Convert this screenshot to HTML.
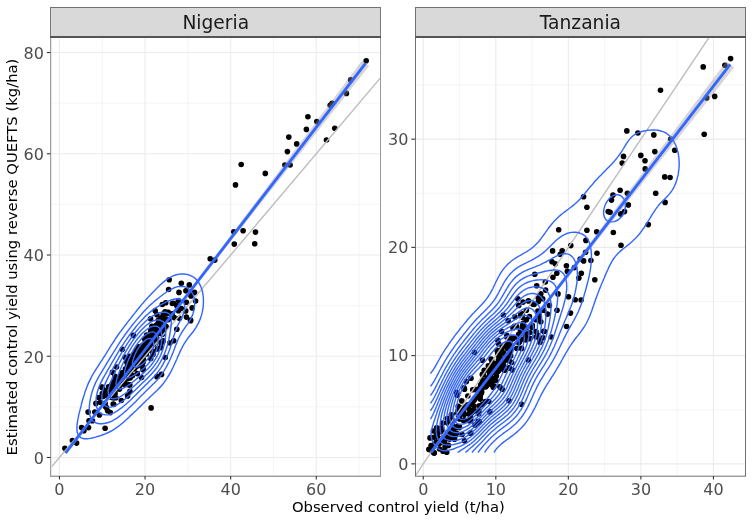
<!DOCTYPE html><html><head><meta charset="utf-8"><style>html,body{margin:0;padding:0;background:#fff;overflow:hidden}svg{display:block;will-change:transform}</style></head><body><svg width="753" height="522" viewBox="0 0 753 522" font-family="DejaVu Sans, Liberation Sans, sans-serif"><rect width="753" height="522" fill="#fff"/><clipPath id="cl"><rect x="50.95" y="36.9" width="329.65000000000003" height="439.0"/></clipPath>
<clipPath id="cr"><rect x="415.55" y="36.9" width="329.7" height="439.0"/></clipPath>
<line x1="50.95" x2="380.60" y1="406.86" y2="406.86" stroke="#EBEBEB" stroke-width="0.55"/>
<line x1="50.95" x2="380.60" y1="305.62" y2="305.62" stroke="#EBEBEB" stroke-width="0.55"/>
<line x1="50.95" x2="380.60" y1="204.40" y2="204.40" stroke="#EBEBEB" stroke-width="0.55"/>
<line x1="50.95" x2="380.60" y1="103.17" y2="103.17" stroke="#EBEBEB" stroke-width="0.55"/>
<line x1="102.24" x2="102.24" y1="36.90" y2="475.90" stroke="#EBEBEB" stroke-width="0.55"/>
<line x1="187.85" x2="187.85" y1="36.90" y2="475.90" stroke="#EBEBEB" stroke-width="0.55"/>
<line x1="273.45" x2="273.45" y1="36.90" y2="475.90" stroke="#EBEBEB" stroke-width="0.55"/>
<line x1="359.05" x2="359.05" y1="36.90" y2="475.90" stroke="#EBEBEB" stroke-width="0.55"/>
<line x1="50.95" x2="380.60" y1="457.47" y2="457.47" stroke="#EBEBEB" stroke-width="1.07"/>
<line x1="50.95" x2="380.60" y1="356.24" y2="356.24" stroke="#EBEBEB" stroke-width="1.07"/>
<line x1="50.95" x2="380.60" y1="255.01" y2="255.01" stroke="#EBEBEB" stroke-width="1.07"/>
<line x1="50.95" x2="380.60" y1="153.78" y2="153.78" stroke="#EBEBEB" stroke-width="1.07"/>
<line x1="50.95" x2="380.60" y1="52.55" y2="52.55" stroke="#EBEBEB" stroke-width="1.07"/>
<line x1="59.44" x2="59.44" y1="36.90" y2="475.90" stroke="#EBEBEB" stroke-width="1.07"/>
<line x1="145.04" x2="145.04" y1="36.90" y2="475.90" stroke="#EBEBEB" stroke-width="1.07"/>
<line x1="230.65" x2="230.65" y1="36.90" y2="475.90" stroke="#EBEBEB" stroke-width="1.07"/>
<line x1="316.25" x2="316.25" y1="36.90" y2="475.90" stroke="#EBEBEB" stroke-width="1.07"/>
<line x1="415.55" x2="745.25" y1="409.74" y2="409.74" stroke="#EBEBEB" stroke-width="0.55"/>
<line x1="415.55" x2="745.25" y1="301.50" y2="301.50" stroke="#EBEBEB" stroke-width="0.55"/>
<line x1="415.55" x2="745.25" y1="193.26" y2="193.26" stroke="#EBEBEB" stroke-width="0.55"/>
<line x1="415.55" x2="745.25" y1="85.02" y2="85.02" stroke="#EBEBEB" stroke-width="0.55"/>
<line x1="459.54" x2="459.54" y1="36.90" y2="475.90" stroke="#EBEBEB" stroke-width="0.55"/>
<line x1="532.08" x2="532.08" y1="36.90" y2="475.90" stroke="#EBEBEB" stroke-width="0.55"/>
<line x1="604.62" x2="604.62" y1="36.90" y2="475.90" stroke="#EBEBEB" stroke-width="0.55"/>
<line x1="677.16" x2="677.16" y1="36.90" y2="475.90" stroke="#EBEBEB" stroke-width="0.55"/>
<line x1="415.55" x2="745.25" y1="463.86" y2="463.86" stroke="#EBEBEB" stroke-width="1.07"/>
<line x1="415.55" x2="745.25" y1="355.62" y2="355.62" stroke="#EBEBEB" stroke-width="1.07"/>
<line x1="415.55" x2="745.25" y1="247.38" y2="247.38" stroke="#EBEBEB" stroke-width="1.07"/>
<line x1="415.55" x2="745.25" y1="139.14" y2="139.14" stroke="#EBEBEB" stroke-width="1.07"/>
<line x1="423.27" x2="423.27" y1="36.90" y2="475.90" stroke="#EBEBEB" stroke-width="1.07"/>
<line x1="495.81" x2="495.81" y1="36.90" y2="475.90" stroke="#EBEBEB" stroke-width="1.07"/>
<line x1="568.35" x2="568.35" y1="36.90" y2="475.90" stroke="#EBEBEB" stroke-width="1.07"/>
<line x1="640.89" x2="640.89" y1="36.90" y2="475.90" stroke="#EBEBEB" stroke-width="1.07"/>
<line x1="713.43" x2="713.43" y1="36.90" y2="475.90" stroke="#EBEBEB" stroke-width="1.07"/>
<g clip-path="url(#cl)">
<g fill="#000"><circle cx="366.2" cy="60.7" r="2.8"/><circle cx="350.6" cy="79.9" r="2.8"/><circle cx="346.4" cy="93.4" r="2.8"/><circle cx="330.2" cy="105.2" r="2.8"/><circle cx="332.1" cy="103.4" r="2.8"/><circle cx="307.9" cy="116.7" r="2.8"/><circle cx="316.8" cy="121.6" r="2.8"/><circle cx="306.4" cy="129.4" r="2.8"/><circle cx="334.8" cy="128.2" r="2.8"/><circle cx="288.8" cy="137.1" r="2.8"/><circle cx="296.7" cy="143.9" r="2.8"/><circle cx="326.5" cy="140.0" r="2.8"/><circle cx="287.4" cy="151.6" r="2.8"/><circle cx="284.9" cy="165.0" r="2.8"/><circle cx="290.1" cy="165.0" r="2.8"/><circle cx="241.2" cy="164.5" r="2.8"/><circle cx="265.3" cy="173.4" r="2.8"/><circle cx="235.5" cy="184.9" r="2.8"/><circle cx="233.8" cy="231.7" r="2.8"/><circle cx="243.1" cy="230.7" r="2.8"/><circle cx="255.5" cy="232.1" r="2.8"/><circle cx="234.3" cy="244.1" r="2.8"/><circle cx="254.7" cy="243.8" r="2.8"/><circle cx="210.2" cy="258.8" r="2.8"/><circle cx="214.8" cy="260.1" r="2.8"/><circle cx="169.2" cy="279.8" r="2.8"/><circle cx="181.3" cy="283.2" r="2.8"/><circle cx="189.3" cy="284.9" r="2.8"/><circle cx="168.6" cy="289.5" r="2.8"/><circle cx="179.0" cy="292.4" r="2.8"/><circle cx="185.9" cy="290.7" r="2.8"/><circle cx="192.2" cy="293.6" r="2.8"/><circle cx="194.5" cy="292.4" r="2.8"/><circle cx="191.0" cy="295.9" r="2.8"/><circle cx="178.4" cy="300.5" r="2.8"/><circle cx="186.4" cy="302.2" r="2.8"/><circle cx="195.6" cy="301.0" r="2.8"/><circle cx="176.7" cy="305.6" r="2.8"/><circle cx="192.2" cy="307.9" r="2.8"/><circle cx="181.3" cy="308.5" r="2.8"/><circle cx="165.7" cy="302.8" r="2.8"/><circle cx="162.3" cy="304.5" r="2.8"/><circle cx="163.4" cy="313.7" r="2.8"/><circle cx="166.9" cy="312.5" r="2.8"/><circle cx="178.4" cy="310.8" r="2.8"/><circle cx="186.4" cy="317.1" r="2.8"/><circle cx="190.5" cy="320.0" r="2.8"/><circle cx="179.5" cy="318.3" r="2.8"/><circle cx="185.7" cy="310.9" r="2.8"/><circle cx="172.3" cy="313.8" r="2.8"/><circle cx="156.9" cy="314.7" r="2.8"/><circle cx="160.8" cy="318.1" r="2.8"/><circle cx="165.5" cy="319.5" r="2.8"/><circle cx="174.2" cy="317.6" r="2.8"/><circle cx="190.6" cy="320.8" r="2.8"/><circle cx="173.7" cy="340.7" r="2.8"/><circle cx="169.9" cy="343.0" r="2.8"/><circle cx="160.7" cy="347.6" r="2.8"/><circle cx="165.3" cy="357.5" r="2.8"/><circle cx="156.9" cy="376.7" r="2.8"/><circle cx="161.5" cy="374.4" r="2.8"/><circle cx="153.0" cy="354.5" r="2.8"/><circle cx="143.1" cy="369.8" r="2.8"/><circle cx="141.5" cy="377.5" r="2.8"/><circle cx="176.8" cy="329.2" r="2.8"/><circle cx="151.1" cy="407.9" r="2.8"/><circle cx="157.5" cy="376.3" r="2.8"/><circle cx="122.3" cy="349.2" r="2.8"/><circle cx="125.1" cy="357.2" r="2.8"/><circle cx="116.5" cy="367.0" r="2.8"/><circle cx="112.5" cy="372.2" r="2.8"/><circle cx="112.5" cy="383.1" r="2.8"/><circle cx="102.1" cy="387.1" r="2.8"/><circle cx="104.4" cy="390.6" r="2.8"/><circle cx="98.7" cy="397.5" r="2.8"/><circle cx="122.8" cy="381.4" r="2.8"/><circle cx="128.6" cy="384.8" r="2.8"/><circle cx="121.3" cy="400.5" r="2.8"/><circle cx="127.6" cy="395.9" r="2.8"/><circle cx="129.9" cy="391.3" r="2.8"/><circle cx="113.8" cy="404.5" r="2.8"/><circle cx="105.7" cy="406.8" r="2.8"/><circle cx="101.7" cy="387.2" r="2.8"/><circle cx="111.5" cy="393.0" r="2.8"/><circle cx="113.8" cy="383.2" r="2.8"/><circle cx="64.9" cy="448.3" r="2.8"/><circle cx="72.4" cy="440.5" r="2.8"/><circle cx="76.6" cy="443.1" r="2.8"/><circle cx="81.6" cy="427.6" r="2.8"/><circle cx="83.9" cy="430.8" r="2.8"/><circle cx="88.5" cy="427.6" r="2.8"/><circle cx="89.0" cy="420.7" r="2.8"/><circle cx="92.5" cy="420.7" r="2.8"/><circle cx="88.1" cy="412.1" r="2.8"/><circle cx="94.8" cy="412.1" r="2.8"/><circle cx="99.4" cy="414.9" r="2.8"/><circle cx="105.1" cy="428.2" r="2.8"/><circle cx="110.3" cy="412.6" r="2.8"/><circle cx="106.3" cy="407.5" r="2.8"/><circle cx="113.2" cy="404.0" r="2.8"/><circle cx="95.9" cy="403.4" r="2.8"/><circle cx="100.5" cy="402.3" r="2.8"/><circle cx="133.3" cy="335.4" r="2.8"/><circle cx="155.2" cy="310.7" r="2.8"/><circle cx="150.6" cy="318.7" r="2.8"/><circle cx="126.2" cy="378.4" r="2.8"/><circle cx="105.1" cy="403.3" r="2.8"/><circle cx="116.6" cy="388.4" r="2.8"/><circle cx="114.0" cy="392.8" r="2.8"/><circle cx="115.1" cy="393.6" r="2.8"/><circle cx="124.3" cy="379.5" r="2.8"/><circle cx="110.8" cy="396.1" r="2.8"/><circle cx="123.1" cy="379.7" r="2.8"/><circle cx="102.3" cy="393.5" r="2.8"/><circle cx="111.2" cy="397.5" r="2.8"/><circle cx="129.0" cy="366.5" r="2.8"/><circle cx="116.4" cy="389.0" r="2.8"/><circle cx="103.2" cy="396.5" r="2.8"/><circle cx="113.5" cy="398.0" r="2.8"/><circle cx="122.0" cy="372.9" r="2.8"/><circle cx="108.4" cy="396.6" r="2.8"/><circle cx="123.9" cy="384.5" r="2.8"/><circle cx="127.1" cy="370.9" r="2.8"/><circle cx="122.7" cy="382.1" r="2.8"/><circle cx="115.1" cy="388.4" r="2.8"/><circle cx="128.6" cy="360.4" r="2.8"/><circle cx="127.7" cy="370.7" r="2.8"/><circle cx="116.6" cy="388.2" r="2.8"/><circle cx="123.2" cy="373.7" r="2.8"/><circle cx="128.3" cy="373.0" r="2.8"/><circle cx="119.1" cy="381.7" r="2.8"/><circle cx="120.6" cy="376.2" r="2.8"/><circle cx="107.6" cy="410.8" r="2.8"/><circle cx="124.8" cy="383.3" r="2.8"/><circle cx="129.8" cy="384.9" r="2.8"/><circle cx="135.3" cy="357.4" r="2.8"/><circle cx="157.4" cy="348.9" r="2.8"/><circle cx="139.7" cy="354.3" r="2.8"/><circle cx="138.5" cy="346.9" r="2.8"/><circle cx="132.3" cy="363.7" r="2.8"/><circle cx="133.8" cy="354.3" r="2.8"/><circle cx="144.8" cy="352.6" r="2.8"/><circle cx="126.7" cy="361.7" r="2.8"/><circle cx="153.1" cy="333.8" r="2.8"/><circle cx="157.2" cy="331.3" r="2.8"/><circle cx="138.2" cy="364.2" r="2.8"/><circle cx="136.5" cy="351.1" r="2.8"/><circle cx="129.4" cy="374.2" r="2.8"/><circle cx="141.6" cy="352.5" r="2.8"/><circle cx="151.2" cy="350.5" r="2.8"/><circle cx="126.5" cy="373.8" r="2.8"/><circle cx="158.0" cy="327.4" r="2.8"/><circle cx="147.4" cy="348.9" r="2.8"/><circle cx="148.2" cy="347.3" r="2.8"/><circle cx="153.8" cy="343.9" r="2.8"/><circle cx="146.5" cy="348.6" r="2.8"/><circle cx="150.9" cy="340.5" r="2.8"/><circle cx="172.3" cy="303.5" r="2.8"/><circle cx="161.1" cy="343.3" r="2.8"/><circle cx="141.4" cy="358.7" r="2.8"/><circle cx="150.7" cy="358.4" r="2.8"/><circle cx="157.6" cy="325.8" r="2.8"/><circle cx="131.1" cy="374.7" r="2.8"/><circle cx="136.5" cy="360.5" r="2.8"/><circle cx="151.9" cy="326.2" r="2.8"/><circle cx="142.9" cy="347.0" r="2.8"/><circle cx="146.7" cy="335.0" r="2.8"/><circle cx="153.0" cy="329.6" r="2.8"/><circle cx="133.5" cy="366.0" r="2.8"/><circle cx="136.3" cy="350.3" r="2.8"/><circle cx="152.1" cy="342.7" r="2.8"/><circle cx="140.2" cy="352.5" r="2.8"/><circle cx="137.5" cy="366.0" r="2.8"/><circle cx="142.4" cy="357.0" r="2.8"/><circle cx="132.5" cy="375.4" r="2.8"/><circle cx="150.7" cy="336.3" r="2.8"/><circle cx="145.1" cy="347.2" r="2.8"/><circle cx="146.3" cy="347.1" r="2.8"/><circle cx="128.7" cy="374.1" r="2.8"/><circle cx="146.2" cy="353.7" r="2.8"/><circle cx="139.9" cy="362.1" r="2.8"/><circle cx="141.5" cy="348.3" r="2.8"/><circle cx="140.7" cy="356.4" r="2.8"/><circle cx="153.8" cy="333.8" r="2.8"/><circle cx="163.2" cy="340.9" r="2.8"/><circle cx="154.2" cy="341.2" r="2.8"/><circle cx="146.5" cy="341.8" r="2.8"/><circle cx="156.6" cy="327.2" r="2.8"/><circle cx="146.7" cy="336.1" r="2.8"/><circle cx="142.0" cy="354.6" r="2.8"/><circle cx="153.6" cy="342.4" r="2.8"/><circle cx="168.2" cy="312.4" r="2.8"/><circle cx="168.3" cy="319.6" r="2.8"/><circle cx="140.9" cy="353.8" r="2.8"/><circle cx="152.9" cy="343.6" r="2.8"/><circle cx="149.1" cy="344.5" r="2.8"/><circle cx="162.3" cy="331.9" r="2.8"/><circle cx="156.2" cy="339.7" r="2.8"/><circle cx="134.8" cy="368.1" r="2.8"/><circle cx="132.3" cy="365.2" r="2.8"/><circle cx="156.1" cy="334.1" r="2.8"/><circle cx="151.7" cy="329.4" r="2.8"/><circle cx="147.9" cy="344.5" r="2.8"/><circle cx="142.1" cy="364.9" r="2.8"/><circle cx="153.2" cy="351.5" r="2.8"/><circle cx="152.0" cy="340.7" r="2.8"/><circle cx="157.1" cy="334.5" r="2.8"/><circle cx="136.2" cy="358.6" r="2.8"/><circle cx="139.0" cy="358.7" r="2.8"/><circle cx="145.5" cy="350.0" r="2.8"/><circle cx="143.0" cy="358.2" r="2.8"/><circle cx="143.0" cy="367.4" r="2.8"/><circle cx="143.4" cy="360.3" r="2.8"/><circle cx="157.0" cy="325.1" r="2.8"/><circle cx="124.2" cy="375.8" r="2.8"/><circle cx="153.3" cy="328.0" r="2.8"/><circle cx="129.4" cy="358.0" r="2.8"/><circle cx="148.8" cy="346.7" r="2.8"/><circle cx="140.4" cy="359.2" r="2.8"/><circle cx="146.8" cy="340.2" r="2.8"/><circle cx="155.8" cy="329.6" r="2.8"/><circle cx="130.5" cy="374.8" r="2.8"/><circle cx="166.6" cy="313.7" r="2.8"/><circle cx="173.6" cy="303.2" r="2.8"/><circle cx="137.9" cy="349.2" r="2.8"/><circle cx="156.3" cy="331.3" r="2.8"/><circle cx="140.2" cy="353.4" r="2.8"/><circle cx="147.7" cy="338.7" r="2.8"/><circle cx="150.7" cy="330.9" r="2.8"/><circle cx="140.7" cy="350.2" r="2.8"/><circle cx="154.9" cy="339.2" r="2.8"/><circle cx="136.2" cy="353.0" r="2.8"/><circle cx="155.1" cy="335.0" r="2.8"/><circle cx="153.7" cy="339.6" r="2.8"/><circle cx="152.0" cy="341.5" r="2.8"/><circle cx="151.4" cy="333.3" r="2.8"/><circle cx="145.5" cy="341.7" r="2.8"/><circle cx="137.8" cy="358.1" r="2.8"/><circle cx="134.1" cy="361.9" r="2.8"/><circle cx="150.2" cy="341.5" r="2.8"/><circle cx="146.3" cy="338.0" r="2.8"/><circle cx="165.2" cy="327.7" r="2.8"/><circle cx="162.4" cy="334.2" r="2.8"/><circle cx="141.2" cy="353.2" r="2.8"/><circle cx="150.6" cy="345.8" r="2.8"/><circle cx="141.3" cy="351.6" r="2.8"/><circle cx="141.6" cy="355.2" r="2.8"/><circle cx="156.7" cy="326.7" r="2.8"/><circle cx="148.7" cy="342.3" r="2.8"/><circle cx="149.1" cy="344.4" r="2.8"/><circle cx="143.6" cy="354.7" r="2.8"/><circle cx="156.5" cy="332.6" r="2.8"/><circle cx="147.8" cy="342.4" r="2.8"/><circle cx="155.2" cy="326.0" r="2.8"/><circle cx="146.3" cy="347.8" r="2.8"/><circle cx="151.6" cy="343.4" r="2.8"/><circle cx="163.5" cy="318.0" r="2.8"/><circle cx="157.0" cy="332.2" r="2.8"/><circle cx="157.6" cy="325.0" r="2.8"/><circle cx="154.9" cy="335.9" r="2.8"/><circle cx="130.6" cy="360.7" r="2.8"/><circle cx="145.4" cy="351.4" r="2.8"/><circle cx="159.2" cy="326.8" r="2.8"/><circle cx="133.5" cy="362.7" r="2.8"/><circle cx="146.3" cy="339.9" r="2.8"/><circle cx="128.2" cy="371.1" r="2.8"/><circle cx="147.8" cy="335.7" r="2.8"/><circle cx="137.3" cy="373.6" r="2.8"/><circle cx="133.9" cy="360.1" r="2.8"/><circle cx="158.3" cy="320.2" r="2.8"/><circle cx="153.8" cy="340.2" r="2.8"/><circle cx="159.2" cy="328.8" r="2.8"/><circle cx="147.1" cy="344.4" r="2.8"/><circle cx="163.5" cy="328.1" r="2.8"/><circle cx="137.9" cy="356.8" r="2.8"/><circle cx="148.6" cy="347.1" r="2.8"/><circle cx="139.5" cy="352.2" r="2.8"/><circle cx="164.2" cy="318.2" r="2.8"/><circle cx="156.9" cy="324.7" r="2.8"/><circle cx="127.2" cy="378.8" r="2.8"/><circle cx="141.5" cy="358.4" r="2.8"/><circle cx="138.3" cy="355.5" r="2.8"/><circle cx="135.0" cy="362.6" r="2.8"/><circle cx="126.6" cy="376.6" r="2.8"/><circle cx="164.3" cy="325.1" r="2.8"/><circle cx="152.9" cy="332.9" r="2.8"/><circle cx="143.9" cy="345.4" r="2.8"/><circle cx="151.7" cy="334.6" r="2.8"/><circle cx="142.3" cy="358.8" r="2.8"/><circle cx="137.9" cy="359.4" r="2.8"/><circle cx="155.3" cy="334.9" r="2.8"/><circle cx="144.9" cy="348.3" r="2.8"/><circle cx="161.6" cy="328.8" r="2.8"/><circle cx="166.1" cy="326.5" r="2.8"/><circle cx="142.7" cy="345.4" r="2.8"/><circle cx="155.1" cy="338.8" r="2.8"/><circle cx="148.1" cy="347.1" r="2.8"/><circle cx="158.8" cy="326.2" r="2.8"/><circle cx="141.4" cy="349.7" r="2.8"/><circle cx="145.2" cy="347.3" r="2.8"/><circle cx="150.0" cy="343.8" r="2.8"/><circle cx="154.1" cy="332.8" r="2.8"/><circle cx="154.1" cy="329.2" r="2.8"/><circle cx="146.3" cy="353.8" r="2.8"/><circle cx="143.9" cy="347.5" r="2.8"/><circle cx="149.6" cy="338.0" r="2.8"/><circle cx="158.3" cy="330.5" r="2.8"/><circle cx="148.1" cy="348.7" r="2.8"/><circle cx="160.8" cy="328.1" r="2.8"/><circle cx="137.3" cy="363.4" r="2.8"/><circle cx="144.7" cy="338.9" r="2.8"/><circle cx="157.9" cy="339.8" r="2.8"/><circle cx="147.9" cy="341.9" r="2.8"/><circle cx="156.3" cy="330.6" r="2.8"/><circle cx="142.2" cy="348.5" r="2.8"/><circle cx="143.2" cy="362.1" r="2.8"/><circle cx="141.4" cy="355.6" r="2.8"/><circle cx="159.9" cy="321.9" r="2.8"/><circle cx="137.7" cy="355.7" r="2.8"/><circle cx="150.3" cy="348.3" r="2.8"/><circle cx="126.5" cy="371.8" r="2.8"/><circle cx="150.8" cy="342.9" r="2.8"/><circle cx="119.2" cy="381.0" r="2.8"/><circle cx="142.9" cy="354.9" r="2.8"/><circle cx="145.7" cy="352.5" r="2.8"/><circle cx="155.6" cy="333.4" r="2.8"/><circle cx="143.1" cy="348.1" r="2.8"/><circle cx="149.0" cy="350.5" r="2.8"/><circle cx="147.7" cy="346.2" r="2.8"/><circle cx="130.0" cy="370.4" r="2.8"/><circle cx="154.1" cy="338.8" r="2.8"/><circle cx="165.0" cy="311.7" r="2.8"/><circle cx="145.9" cy="342.9" r="2.8"/><circle cx="171.5" cy="314.6" r="2.8"/><circle cx="139.3" cy="356.9" r="2.8"/><circle cx="134.0" cy="369.0" r="2.8"/><circle cx="151.6" cy="340.9" r="2.8"/><circle cx="152.1" cy="335.3" r="2.8"/><circle cx="140.8" cy="353.7" r="2.8"/><circle cx="146.3" cy="349.2" r="2.8"/><circle cx="140.0" cy="351.9" r="2.8"/><circle cx="147.8" cy="341.7" r="2.8"/><circle cx="160.5" cy="321.4" r="2.8"/><circle cx="136.9" cy="362.4" r="2.8"/><circle cx="146.5" cy="344.6" r="2.8"/><circle cx="159.8" cy="333.3" r="2.8"/><circle cx="144.5" cy="346.5" r="2.8"/><circle cx="163.0" cy="316.1" r="2.8"/><circle cx="138.1" cy="357.3" r="2.8"/><circle cx="140.3" cy="348.5" r="2.8"/><circle cx="154.3" cy="337.1" r="2.8"/><circle cx="142.5" cy="348.8" r="2.8"/><circle cx="160.2" cy="331.6" r="2.8"/><circle cx="145.7" cy="345.6" r="2.8"/><circle cx="149.5" cy="339.4" r="2.8"/><circle cx="120.5" cy="382.7" r="2.8"/><circle cx="109.5" cy="393.0" r="2.8"/><circle cx="115.8" cy="397.7" r="2.8"/><circle cx="111.4" cy="385.4" r="2.8"/><circle cx="130.1" cy="378.0" r="2.8"/><circle cx="119.5" cy="389.1" r="2.8"/><circle cx="128.1" cy="372.8" r="2.8"/><circle cx="124.2" cy="374.1" r="2.8"/><circle cx="125.4" cy="369.0" r="2.8"/><circle cx="135.0" cy="361.1" r="2.8"/><circle cx="128.5" cy="364.3" r="2.8"/><circle cx="107.3" cy="395.4" r="2.8"/><circle cx="114.1" cy="387.8" r="2.8"/><circle cx="123.3" cy="372.5" r="2.8"/><circle cx="132.8" cy="356.9" r="2.8"/><circle cx="129.7" cy="364.5" r="2.8"/><circle cx="134.6" cy="367.4" r="2.8"/><circle cx="114.9" cy="376.2" r="2.8"/><circle cx="127.6" cy="362.8" r="2.8"/><circle cx="126.6" cy="368.7" r="2.8"/><circle cx="117.7" cy="386.4" r="2.8"/><circle cx="114.7" cy="389.9" r="2.8"/><circle cx="127.7" cy="364.6" r="2.8"/><circle cx="114.0" cy="386.4" r="2.8"/><circle cx="113.5" cy="381.9" r="2.8"/><circle cx="129.8" cy="373.3" r="2.8"/><circle cx="130.3" cy="362.4" r="2.8"/><circle cx="133.0" cy="358.5" r="2.8"/><circle cx="112.9" cy="390.7" r="2.8"/><circle cx="117.3" cy="381.1" r="2.8"/><circle cx="111.0" cy="393.5" r="2.8"/><circle cx="115.7" cy="384.5" r="2.8"/><circle cx="126.1" cy="378.2" r="2.8"/><circle cx="119.4" cy="385.5" r="2.8"/><circle cx="133.6" cy="359.7" r="2.8"/><circle cx="116.1" cy="381.1" r="2.8"/><circle cx="115.1" cy="376.9" r="2.8"/><circle cx="109.5" cy="387.4" r="2.8"/><circle cx="109.8" cy="396.0" r="2.8"/><circle cx="109.3" cy="392.6" r="2.8"/><circle cx="134.3" cy="354.9" r="2.8"/><circle cx="130.0" cy="356.3" r="2.8"/><circle cx="131.2" cy="363.0" r="2.8"/><circle cx="122.7" cy="382.1" r="2.8"/><circle cx="109.2" cy="394.2" r="2.8"/><circle cx="133.6" cy="360.6" r="2.8"/><circle cx="123.5" cy="377.8" r="2.8"/><circle cx="127.6" cy="365.3" r="2.8"/><circle cx="123.1" cy="377.5" r="2.8"/><circle cx="108.5" cy="386.9" r="2.8"/></g>
<line x1="50.95" y1="467.51" x2="380.60" y2="77.69" stroke="#BEBEBE" stroke-width="1.42"/>
<path d="M78.7,435.8 L81.1,437.9 L84.1,438.8 L87.1,438.8 L90.2,438.4 L93.2,437.7 L96.2,436.9 L99.2,436.0 L99.7,435.8 L102.3,435.0 L105.3,433.9 L108.3,432.5 L109.7,431.8 L111.3,431.0 L114.4,429.2 L116.4,427.7 L117.4,427.1 L120.4,424.8 L121.6,423.7 L123.5,422.2 L126.2,419.7 L126.5,419.4 L129.5,416.7 L130.6,415.6 L132.5,413.9 L134.9,411.6 L135.6,411.0 L138.6,408.0 L139.1,407.6 L141.6,405.2 L143.2,403.5 L144.6,402.2 L147.3,399.5 L147.7,399.2 L150.7,396.3 L151.6,395.5 L153.7,393.6 L155.9,391.5 L156.8,390.7 L159.8,387.6 L159.9,387.4 L162.8,384.2 L163.4,383.4 L165.8,380.1 L166.3,379.4 L168.8,375.3 L168.9,375.2 L171.1,371.3 L171.9,369.6 L173.1,367.3 L174.9,363.2 L174.9,363.1 L176.8,359.2 L177.9,356.3 L178.5,355.2 L180.3,351.1 L181.0,349.7 L182.3,347.1 L184.0,344.0 L184.6,343.1 L187.0,339.4 L187.3,339.0 L190.0,335.5 L190.4,335.0 L193.1,331.7 L193.6,331.0 L196.1,327.3 L196.3,326.9 L198.6,322.9 L199.1,321.6 L200.3,318.9 L201.6,314.9 L202.2,312.4 L202.5,310.8 L203.2,306.8 L203.4,302.8 L203.4,298.7 L203.0,294.7 L202.2,290.7 L202.2,290.7 L200.9,286.6 L199.1,283.1 L198.8,282.6 L196.1,279.2 L195.4,278.6 L193.1,276.8 L190.0,275.3 L187.5,274.5 L187.0,274.4 L184.0,274.0 L181.0,274.0 L177.9,274.4 L177.4,274.5 L174.9,275.2 L171.9,276.4 L168.9,278.0 L168.1,278.6 L165.8,280.1 L162.8,282.6 L162.8,282.6 L159.8,285.3 L158.5,286.6 L156.8,288.3 L154.5,290.7 L153.7,291.4 L150.7,294.6 L150.6,294.7 L147.7,297.8 L146.8,298.7 L144.6,301.1 L143.3,302.8 L141.6,304.6 L139.9,306.8 L138.6,308.3 L136.6,310.8 L135.6,312.1 L133.4,314.9 L132.5,316.0 L130.3,318.9 L129.5,319.8 L127.1,322.9 L126.5,323.7 L124.0,326.9 L123.5,327.7 L121.0,331.0 L120.4,331.7 L118.1,335.0 L117.4,336.0 L115.3,339.0 L114.4,340.5 L112.7,343.1 L111.3,345.2 L110.1,347.1 L108.3,350.1 L107.6,351.1 L105.3,355.0 L105.2,355.2 L102.6,359.2 L102.3,359.7 L99.9,363.2 L99.2,364.3 L97.3,367.3 L96.2,369.0 L94.7,371.3 L93.2,373.9 L92.3,375.3 L90.3,379.4 L90.2,379.6 L88.3,383.4 L87.1,386.4 L86.7,387.4 L85.2,391.5 L84.1,395.1 L84.0,395.5 L82.7,399.5 L81.6,403.5 L81.1,405.9 L80.6,407.6 L79.6,411.6 L78.6,415.6 L78.1,418.7 L77.8,419.7 L77.2,423.7 L76.9,427.7 L77.1,431.8 L78.1,434.6 L78.7,435.8" fill="none" stroke="#3366FF" stroke-width="1.42"/>
<path d="M91.7,419.7 L93.2,421.3 L96.2,423.0 L99.2,423.7 L102.3,423.7 L105.3,423.3 L108.3,422.5 L111.3,421.3 L114.3,419.7 L114.4,419.6 L117.4,417.8 L120.2,415.6 L120.4,415.5 L123.5,413.0 L125.0,411.6 L126.5,410.4 L129.4,407.6 L129.5,407.5 L132.5,404.7 L133.6,403.5 L135.6,401.7 L137.6,399.5 L138.6,398.6 L141.5,395.5 L141.6,395.4 L144.6,392.4 L145.6,391.5 L147.7,389.4 L149.7,387.4 L150.7,386.5 L153.7,383.5 L153.8,383.4 L156.8,380.4 L157.7,379.4 L159.8,376.9 L161.0,375.3 L162.8,372.7 L163.7,371.3 L165.8,367.8 L166.1,367.3 L168.3,363.2 L168.9,362.0 L170.2,359.2 L171.9,355.2 L171.9,355.1 L173.6,351.1 L174.9,347.4 L175.0,347.1 L176.7,343.1 L177.9,339.8 L178.3,339.0 L180.3,335.0 L181.0,333.8 L182.7,331.0 L184.0,329.1 L185.5,326.9 L187.0,324.8 L188.4,322.9 L190.0,320.1 L190.8,318.9 L192.6,314.9 L193.1,313.3 L193.8,310.8 L194.5,306.8 L194.7,302.8 L194.3,298.7 L193.1,294.7 L193.1,294.5 L190.7,290.7 L190.0,289.9 L187.0,287.6 L184.3,286.6 L184.0,286.5 L181.0,286.3 L178.0,286.6 L177.9,286.6 L174.9,287.5 L171.9,288.8 L168.9,290.5 L168.7,290.7 L165.8,292.5 L162.8,294.7 L162.8,294.7 L159.8,297.0 L157.7,298.7 L156.8,299.4 L153.7,302.0 L152.9,302.8 L150.7,304.6 L148.5,306.8 L147.7,307.5 L144.6,310.7 L144.5,310.8 L141.6,314.0 L140.9,314.9 L138.6,317.5 L137.4,318.9 L135.6,321.1 L134.1,322.9 L132.5,324.8 L130.9,326.9 L129.5,328.7 L127.8,331.0 L126.5,332.7 L124.8,335.0 L123.5,337.0 L122.0,339.0 L120.4,341.4 L119.3,343.1 L117.4,346.1 L116.8,347.1 L114.4,351.0 L114.3,351.1 L111.8,355.2 L111.3,356.0 L109.3,359.2 L108.3,360.9 L106.9,363.2 L105.3,365.9 L104.4,367.3 L102.3,370.8 L102.0,371.3 L99.5,375.3 L99.2,375.9 L97.3,379.4 L96.2,381.5 L95.3,383.4 L93.6,387.4 L93.2,388.6 L92.2,391.5 L91.1,395.5 L90.2,399.5 L90.2,400.1 L89.6,403.5 L89.3,407.6 L89.3,411.6 L89.9,415.6 L90.2,416.4 L91.7,419.7" fill="none" stroke="#3366FF" stroke-width="1.42"/>
<path d="M98.7,411.6 L99.2,412.2 L102.3,414.3 L105.3,414.9 L108.3,414.7 L111.3,413.9 L114.4,412.6 L116.0,411.6 L117.4,410.8 L120.4,408.7 L121.9,407.6 L123.5,406.3 L126.5,403.7 L126.7,403.5 L129.5,401.0 L131.1,399.5 L132.5,398.1 L135.1,395.5 L135.6,395.1 L138.6,392.0 L139.1,391.5 L141.6,389.0 L143.2,387.4 L144.6,386.0 L147.3,383.4 L147.7,383.0 L150.7,380.1 L151.4,379.4 L153.7,377.0 L155.2,375.3 L156.8,373.5 L158.4,371.3 L159.8,369.4 L161.2,367.3 L162.8,364.7 L163.6,363.2 L165.7,359.2 L165.8,358.8 L167.5,355.2 L168.9,351.6 L169.1,351.1 L170.5,347.1 L171.7,343.1 L171.9,342.5 L173.0,339.0 L174.2,335.0 L174.9,332.7 L175.6,331.0 L177.2,326.9 L177.9,325.1 L179.1,322.9 L181.0,319.2 L181.1,318.9 L183.0,314.9 L184.0,311.9 L184.4,310.8 L184.8,306.8 L184.0,302.9 L183.9,302.8 L181.0,299.7 L177.9,298.8 L174.9,299.0 L171.9,299.8 L168.9,300.9 L165.8,302.2 L164.8,302.8 L162.8,303.7 L159.8,305.3 L157.5,306.8 L156.8,307.2 L153.7,309.2 L151.7,310.8 L150.7,311.6 L147.7,314.2 L147.0,314.9 L144.6,317.0 L142.9,318.9 L141.6,320.2 L139.2,322.9 L138.6,323.6 L135.8,326.9 L135.6,327.3 L132.6,331.0 L132.5,331.1 L129.5,335.0 L129.5,335.1 L126.7,339.0 L126.5,339.3 L123.9,343.1 L123.5,343.8 L121.3,347.1 L120.4,348.6 L118.8,351.1 L117.4,353.6 L116.4,355.2 L114.4,358.7 L114.1,359.2 L111.7,363.2 L111.3,363.9 L109.4,367.3 L108.3,369.1 L107.0,371.3 L105.3,374.4 L104.7,375.3 L102.5,379.4 L102.3,379.9 L100.5,383.4 L99.2,386.5 L98.9,387.4 L97.5,391.5 L96.6,395.5 L96.2,398.4 L96.1,399.5 L96.0,403.5 L96.2,404.8 L96.7,407.6 L98.7,411.6" fill="none" stroke="#3366FF" stroke-width="1.42"/>
<path d="M103.3,403.5 L105.3,405.9 L108.3,407.1 L111.3,407.0 L114.4,406.1 L117.4,404.6 L119.1,403.5 L120.4,402.7 L123.5,400.5 L124.6,399.5 L126.5,398.0 L129.4,395.5 L129.5,395.4 L132.5,392.6 L133.7,391.5 L135.6,389.7 L137.8,387.4 L138.6,386.7 L141.6,383.7 L141.9,383.4 L144.6,380.9 L146.2,379.4 L147.7,377.9 L150.2,375.3 L150.7,374.9 L153.7,371.5 L153.9,371.3 L156.8,367.7 L157.1,367.3 L159.7,363.2 L159.8,363.1 L162.0,359.2 L162.8,357.5 L163.9,355.2 L165.5,351.1 L165.8,350.1 L166.9,347.1 L168.0,343.1 L168.9,339.1 L168.9,339.0 L169.7,335.0 L170.4,331.0 L170.9,326.9 L171.3,322.9 L171.4,318.9 L170.2,314.9 L168.9,313.5 L165.8,312.2 L162.8,312.1 L159.8,312.7 L156.8,313.8 L154.6,314.9 L153.7,315.3 L150.7,317.2 L148.5,318.9 L147.7,319.5 L144.6,322.2 L144.0,322.9 L141.6,325.3 L140.1,326.9 L138.6,328.6 L136.6,331.0 L135.6,332.3 L133.4,335.0 L132.5,336.2 L130.4,339.0 L129.5,340.4 L127.7,343.1 L126.5,344.9 L125.1,347.1 L123.5,349.8 L122.6,351.1 L120.4,355.0 L120.3,355.2 L118.0,359.2 L117.4,360.3 L115.7,363.2 L114.4,365.8 L113.5,367.3 L111.4,371.3 L111.3,371.3 L109.2,375.3 L108.3,377.1 L107.2,379.4 L105.3,383.4 L105.3,383.4 L103.7,387.4 L102.5,391.5 L102.3,393.2 L101.9,395.5 L102.0,399.5 L102.3,400.8 L103.3,403.5" fill="none" stroke="#3366FF" stroke-width="1.42"/>
<path d="M108.7,395.5 L111.3,398.5 L114.4,398.9 L117.4,398.0 L120.4,396.6 L122.2,395.5 L123.5,394.7 L126.5,392.5 L127.8,391.5 L129.5,390.1 L132.5,387.4 L132.6,387.4 L135.6,384.7 L136.9,383.4 L138.6,381.9 L141.3,379.4 L141.6,379.1 L144.6,376.3 L145.6,375.3 L147.7,373.4 L149.7,371.3 L150.7,370.2 L153.2,367.3 L153.7,366.6 L156.2,363.2 L156.8,362.3 L158.6,359.2 L159.8,357.0 L160.7,355.2 L162.3,351.1 L162.8,349.6 L163.6,347.1 L164.6,343.1 L165.3,339.0 L165.7,335.0 L165.8,331.0 L165.4,326.9 L163.9,322.9 L162.8,321.5 L159.8,320.0 L156.8,319.9 L153.7,320.7 L150.7,322.2 L149.7,322.9 L147.7,324.3 L144.6,326.8 L144.5,326.9 L141.6,329.8 L140.5,331.0 L138.6,333.1 L137.0,335.0 L135.6,336.8 L133.9,339.0 L132.5,340.9 L131.1,343.1 L129.5,345.5 L128.5,347.1 L126.5,350.4 L126.0,351.1 L123.8,355.2 L123.5,355.7 L121.6,359.2 L120.4,361.4 L119.4,363.2 L117.4,367.2 L117.4,367.3 L115.4,371.3 L114.4,373.4 L113.5,375.3 L111.7,379.4 L111.3,380.2 L110.1,383.4 L108.9,387.4 L108.3,390.8 L108.2,391.5 L108.3,392.8 L108.7,395.5" fill="none" stroke="#3366FF" stroke-width="1.42"/>
<path d="M116.6,387.4 L117.4,388.4 L120.4,389.0 L123.5,388.2 L124.9,387.4 L126.5,386.6 L129.5,384.5 L131.0,383.4 L132.5,382.2 L135.6,379.7 L136.0,379.4 L138.6,377.2 L140.8,375.3 L141.6,374.6 L144.6,371.9 L145.3,371.3 L147.7,369.0 L149.3,367.3 L150.7,365.7 L152.6,363.2 L153.7,361.7 L155.3,359.2 L156.8,356.7 L157.5,355.2 L159.3,351.1 L159.8,349.5 L160.6,347.1 L161.4,343.1 L161.9,339.0 L161.8,335.0 L161.0,331.0 L159.8,328.5 L158.1,326.9 L156.8,326.2 L153.7,326.1 L151.0,326.9 L150.7,327.0 L147.7,328.8 L144.9,331.0 L144.6,331.2 L141.6,334.1 L140.8,335.0 L138.6,337.5 L137.3,339.0 L135.6,341.4 L134.4,343.1 L132.5,345.8 L131.7,347.1 L129.5,350.8 L129.3,351.1 L127.1,355.2 L126.5,356.4 L125.0,359.2 L123.5,362.5 L123.1,363.2 L121.2,367.3 L120.4,369.2 L119.5,371.3 L118.0,375.3 L117.4,377.3 L116.7,379.4 L116.0,383.4 L116.6,387.4" fill="none" stroke="#3366FF" stroke-width="1.42"/>
<path d="M124.4,375.3 L126.5,378.0 L129.5,377.6 L132.5,376.2 L134.0,375.3 L135.6,374.4 L138.6,372.3 L139.9,371.3 L141.6,370.0 L144.6,367.5 L144.8,367.3 L147.7,364.4 L148.7,363.2 L150.7,360.8 L151.8,359.2 L153.7,356.1 L154.3,355.2 L156.1,351.1 L156.8,349.0 L157.3,347.1 L158.0,343.1 L158.1,339.0 L157.1,335.0 L156.8,334.4 L153.7,332.0 L150.7,332.1 L147.7,333.5 L145.5,335.0 L144.6,335.6 L141.6,338.5 L141.2,339.0 L138.6,342.1 L137.8,343.1 L135.6,346.3 L135.1,347.1 L132.7,351.1 L132.5,351.4 L130.6,355.2 L129.5,357.5 L128.7,359.2 L127.1,363.2 L126.5,365.0 L125.7,367.3 L124.7,371.3 L124.4,375.3" fill="none" stroke="#3366FF" stroke-width="1.42"/>
<path d="M135.1,367.3 L135.6,367.4 L135.9,367.3 L138.6,366.3 L141.6,364.6 L143.4,363.2 L144.6,362.2 L147.6,359.2 L147.7,359.1 L150.4,355.2 L150.7,354.7 L152.3,351.1 L153.5,347.1 L153.7,344.5 L153.8,343.1 L153.7,342.7 L151.6,339.0 L150.7,338.5 L147.7,338.9 L147.4,339.0 L144.6,340.9 L142.3,343.1 L141.6,343.8 L139.0,347.1 L138.6,347.8 L136.6,351.1 L135.6,353.2 L134.7,355.2 L133.3,359.2 L132.5,362.7 L132.4,363.2 L132.5,364.0 L135.1,367.3" fill="none" stroke="#3366FF" stroke-width="1.42"/>
<path d="M67.03,454.10 L74.41,444.27 L81.79,434.43 L89.17,424.60 L96.56,414.78 L103.95,404.95 L111.35,395.13 L118.75,385.32 L126.17,375.51 L133.60,365.72 L141.06,355.95 L148.55,346.20 L156.07,336.47 L163.61,326.77 L171.18,317.08 L178.76,307.40 L186.35,297.73 L193.95,288.06 L201.55,278.40 L209.15,268.74 L216.76,259.08 L224.37,249.43 L231.98,239.77 L239.59,230.12 L247.21,220.46 L254.82,210.81 L262.44,201.16 L270.05,191.51 L277.67,181.85 L285.28,172.20 L292.90,162.55 L300.51,152.90 L308.13,143.25 L315.75,133.60 L323.36,123.95 L330.98,114.30 L338.60,104.65 L346.21,95.00 L353.83,85.34 L361.45,75.69 L369.07,66.04 L361.93,60.56 L354.56,70.39 L347.18,80.23 L339.80,90.06 L332.42,99.89 L325.04,109.73 L317.67,119.56 L310.29,129.40 L302.91,139.23 L295.53,149.07 L288.15,158.90 L280.77,168.73 L273.39,178.57 L266.01,188.40 L258.63,198.23 L251.25,208.07 L243.87,217.90 L236.49,227.73 L229.11,237.56 L221.72,247.39 L214.34,257.22 L206.95,267.05 L199.56,276.87 L192.17,286.69 L184.77,296.51 L177.37,306.33 L169.95,316.13 L162.52,325.93 L155.07,335.71 L147.60,345.47 L140.09,355.20 L132.55,364.91 L124.99,374.61 L117.41,384.29 L109.82,393.96 L102.22,403.62 L94.62,413.28 L87.01,422.94 L79.40,432.60 L71.79,442.25 L64.17,451.90Z" fill="#999999" fill-opacity="0.4"/>
<path d="M65.6,453.0 L365.5,63.3" fill="none" stroke="#3366FF" stroke-width="2.85" stroke-linecap="butt"/>
</g>
<g clip-path="url(#cr)">
<g fill="#000"><circle cx="730.6" cy="58.6" r="2.8"/><circle cx="724.9" cy="65.3" r="2.8"/><circle cx="703.2" cy="66.9" r="2.8"/><circle cx="660.5" cy="90.2" r="2.8"/><circle cx="706.7" cy="97.9" r="2.8"/><circle cx="714.7" cy="96.4" r="2.8"/><circle cx="704.2" cy="134.3" r="2.8"/><circle cx="653.8" cy="134.9" r="2.8"/><circle cx="670.7" cy="139.1" r="2.8"/><circle cx="626.8" cy="130.9" r="2.8"/><circle cx="637.9" cy="133.0" r="2.8"/><circle cx="654.8" cy="151.6" r="2.8"/><circle cx="674.7" cy="150.3" r="2.8"/><circle cx="623.5" cy="156.4" r="2.8"/><circle cx="622.2" cy="163.1" r="2.8"/><circle cx="640.8" cy="155.4" r="2.8"/><circle cx="645.0" cy="160.8" r="2.8"/><circle cx="645.2" cy="168.9" r="2.8"/><circle cx="664.7" cy="176.9" r="2.8"/><circle cx="670.1" cy="177.5" r="2.8"/><circle cx="655.7" cy="193.2" r="2.8"/><circle cx="665.1" cy="202.4" r="2.8"/><circle cx="620.1" cy="190.3" r="2.8"/><circle cx="613.0" cy="195.1" r="2.8"/><circle cx="627.4" cy="193.2" r="2.8"/><circle cx="611.5" cy="200.1" r="2.8"/><circle cx="628.3" cy="204.9" r="2.8"/><circle cx="608.2" cy="211.6" r="2.8"/><circle cx="610.1" cy="212.3" r="2.8"/><circle cx="620.7" cy="213.9" r="2.8"/><circle cx="624.5" cy="211.6" r="2.8"/><circle cx="583.6" cy="196.7" r="2.8"/><circle cx="586.9" cy="207.2" r="2.8"/><circle cx="558.7" cy="229.7" r="2.8"/><circle cx="586.9" cy="230.2" r="2.8"/><circle cx="596.7" cy="231.8" r="2.8"/><circle cx="613.3" cy="232.5" r="2.8"/><circle cx="585.9" cy="240.4" r="2.8"/><circle cx="570.8" cy="245.6" r="2.8"/><circle cx="621.0" cy="245.2" r="2.8"/><circle cx="552.6" cy="250.9" r="2.8"/><circle cx="562.2" cy="250.9" r="2.8"/><circle cx="560.3" cy="254.2" r="2.8"/><circle cx="585.6" cy="252.3" r="2.8"/><circle cx="597.0" cy="253.2" r="2.8"/><circle cx="580.2" cy="259.0" r="2.8"/><circle cx="583.6" cy="260.9" r="2.8"/><circle cx="590.9" cy="260.5" r="2.8"/><circle cx="552.0" cy="261.8" r="2.8"/><circle cx="555.3" cy="263.8" r="2.8"/><circle cx="566.4" cy="265.7" r="2.8"/><circle cx="574.4" cy="267.6" r="2.8"/><circle cx="567.4" cy="271.4" r="2.8"/><circle cx="556.8" cy="273.3" r="2.8"/><circle cx="581.3" cy="273.3" r="2.8"/><circle cx="578.9" cy="278.1" r="2.8"/><circle cx="553.0" cy="277.2" r="2.8"/><circle cx="534.8" cy="274.3" r="2.8"/><circle cx="594.8" cy="279.7" r="2.8"/><circle cx="545.3" cy="282.0" r="2.8"/><circle cx="536.7" cy="285.8" r="2.8"/><circle cx="648.3" cy="224.6" r="2.8"/><circle cx="581.1" cy="300.0" r="2.8"/><circle cx="545.6" cy="290.1" r="2.8"/><circle cx="540.8" cy="293.9" r="2.8"/><circle cx="558.0" cy="293.9" r="2.8"/><circle cx="568.5" cy="296.8" r="2.8"/><circle cx="575.2" cy="299.7" r="2.8"/><circle cx="517.8" cy="298.7" r="2.8"/><circle cx="518.7" cy="305.4" r="2.8"/><circle cx="542.7" cy="298.7" r="2.8"/><circle cx="534.1" cy="304.5" r="2.8"/><circle cx="549.4" cy="305.4" r="2.8"/><circle cx="557.0" cy="310.2" r="2.8"/><circle cx="570.5" cy="313.1" r="2.8"/><circle cx="503.4" cy="315.0" r="2.8"/><circle cx="526.4" cy="310.2" r="2.8"/><circle cx="543.6" cy="310.2" r="2.8"/><circle cx="547.5" cy="314.1" r="2.8"/><circle cx="514.9" cy="316.9" r="2.8"/><circle cx="508.2" cy="320.8" r="2.8"/><circle cx="526.4" cy="319.8" r="2.8"/><circle cx="536.0" cy="319.8" r="2.8"/><circle cx="540.8" cy="321.7" r="2.8"/><circle cx="522.6" cy="325.6" r="2.8"/><circle cx="532.1" cy="327.5" r="2.8"/><circle cx="566.6" cy="326.5" r="2.8"/><circle cx="501.5" cy="331.3" r="2.8"/><circle cx="524.5" cy="333.2" r="2.8"/><circle cx="543.6" cy="331.3" r="2.8"/><circle cx="551.3" cy="337.0" r="2.8"/><circle cx="539.8" cy="340.9" r="2.8"/><circle cx="536.0" cy="337.0" r="2.8"/><circle cx="513.0" cy="338.0" r="2.8"/><circle cx="509.2" cy="342.8" r="2.8"/><circle cx="518.7" cy="342.8" r="2.8"/><circle cx="498.6" cy="343.8" r="2.8"/><circle cx="516.8" cy="348.5" r="2.8"/><circle cx="528.3" cy="360.0" r="2.8"/><circle cx="544.5" cy="331.5" r="2.8"/><circle cx="543.0" cy="337.7" r="2.8"/><circle cx="539.9" cy="342.3" r="2.8"/><circle cx="525.4" cy="336.1" r="2.8"/><circle cx="529.2" cy="338.4" r="2.8"/><circle cx="523.1" cy="339.2" r="2.8"/><circle cx="521.5" cy="348.4" r="2.8"/><circle cx="521.5" cy="404.3" r="2.8"/><circle cx="509.1" cy="400.7" r="2.8"/><circle cx="499.9" cy="386.9" r="2.8"/><circle cx="502.2" cy="389.2" r="2.8"/><circle cx="489.9" cy="411.9" r="2.8"/><circle cx="478.4" cy="421.4" r="2.8"/><circle cx="470.8" cy="420.6" r="2.8"/><circle cx="470.8" cy="432.9" r="2.8"/><circle cx="474.6" cy="410.7" r="2.8"/><circle cx="482.3" cy="404.5" r="2.8"/><circle cx="485.3" cy="401.5" r="2.8"/><circle cx="428.9" cy="449.4" r="2.8"/><circle cx="430.0" cy="437.9" r="2.8"/><circle cx="433.5" cy="431.0" r="2.8"/><circle cx="434.1" cy="452.9" r="2.8"/><circle cx="436.9" cy="434.5" r="2.8"/><circle cx="440.4" cy="428.7" r="2.8"/><circle cx="439.2" cy="443.7" r="2.8"/><circle cx="442.7" cy="423.0" r="2.8"/><circle cx="445.0" cy="447.1" r="2.8"/><circle cx="446.7" cy="452.3" r="2.8"/><circle cx="448.4" cy="445.4" r="2.8"/><circle cx="449.6" cy="433.3" r="2.8"/><circle cx="449.6" cy="439.1" r="2.8"/><circle cx="453.0" cy="429.9" r="2.8"/><circle cx="456.5" cy="427.6" r="2.8"/><circle cx="451.3" cy="414.9" r="2.8"/><circle cx="456.5" cy="433.3" r="2.8"/><circle cx="464.5" cy="420.1" r="2.8"/><circle cx="469.1" cy="420.7" r="2.8"/><circle cx="470.3" cy="433.3" r="2.8"/><circle cx="464.5" cy="440.8" r="2.8"/><circle cx="478.3" cy="421.8" r="2.8"/><circle cx="472.6" cy="410.3" r="2.8"/><circle cx="474.5" cy="352.3" r="2.8"/><circle cx="482.5" cy="360.3" r="2.8"/><circle cx="471.0" cy="378.2" r="2.8"/><circle cx="466.4" cy="381.6" r="2.8"/><circle cx="456.7" cy="392.5" r="2.8"/><circle cx="464.1" cy="387.9" r="2.8"/><circle cx="433.8" cy="437.2" r="2.8"/><circle cx="445.8" cy="438.6" r="2.8"/><circle cx="434.3" cy="453.0" r="2.8"/><circle cx="432.3" cy="451.3" r="2.8"/><circle cx="454.6" cy="439.3" r="2.8"/><circle cx="439.9" cy="442.3" r="2.8"/><circle cx="447.4" cy="433.4" r="2.8"/><circle cx="434.0" cy="444.7" r="2.8"/><circle cx="447.5" cy="433.7" r="2.8"/><circle cx="451.3" cy="421.5" r="2.8"/><circle cx="455.4" cy="435.4" r="2.8"/><circle cx="444.6" cy="441.5" r="2.8"/><circle cx="439.5" cy="449.0" r="2.8"/><circle cx="452.5" cy="425.5" r="2.8"/><circle cx="442.4" cy="440.4" r="2.8"/><circle cx="432.6" cy="447.1" r="2.8"/><circle cx="441.4" cy="442.1" r="2.8"/><circle cx="447.6" cy="422.9" r="2.8"/><circle cx="453.4" cy="431.8" r="2.8"/><circle cx="431.4" cy="449.9" r="2.8"/><circle cx="453.5" cy="431.9" r="2.8"/><circle cx="439.1" cy="441.3" r="2.8"/><circle cx="442.2" cy="431.5" r="2.8"/><circle cx="431.9" cy="447.8" r="2.8"/><circle cx="452.0" cy="438.0" r="2.8"/><circle cx="438.4" cy="438.1" r="2.8"/><circle cx="432.8" cy="447.2" r="2.8"/><circle cx="431.1" cy="445.5" r="2.8"/><circle cx="442.4" cy="438.6" r="2.8"/><circle cx="449.3" cy="420.8" r="2.8"/><circle cx="432.1" cy="445.9" r="2.8"/><circle cx="453.3" cy="420.7" r="2.8"/><circle cx="451.0" cy="418.4" r="2.8"/><circle cx="432.9" cy="451.7" r="2.8"/><circle cx="438.0" cy="432.9" r="2.8"/><circle cx="443.0" cy="451.2" r="2.8"/><circle cx="436.0" cy="442.2" r="2.8"/><circle cx="454.4" cy="434.4" r="2.8"/><circle cx="441.6" cy="428.1" r="2.8"/><circle cx="449.5" cy="432.2" r="2.8"/><circle cx="432.2" cy="448.8" r="2.8"/><circle cx="436.7" cy="427.8" r="2.8"/><circle cx="449.4" cy="434.7" r="2.8"/><circle cx="447.3" cy="418.6" r="2.8"/><circle cx="450.4" cy="435.0" r="2.8"/><circle cx="459.5" cy="418.9" r="2.8"/><circle cx="459.4" cy="427.6" r="2.8"/><circle cx="474.7" cy="398.7" r="2.8"/><circle cx="474.1" cy="406.0" r="2.8"/><circle cx="464.5" cy="420.3" r="2.8"/><circle cx="479.8" cy="396.5" r="2.8"/><circle cx="461.8" cy="400.9" r="2.8"/><circle cx="457.4" cy="395.3" r="2.8"/><circle cx="471.1" cy="413.5" r="2.8"/><circle cx="467.8" cy="396.0" r="2.8"/><circle cx="470.5" cy="418.7" r="2.8"/><circle cx="456.8" cy="413.8" r="2.8"/><circle cx="469.2" cy="413.9" r="2.8"/><circle cx="463.7" cy="412.9" r="2.8"/><circle cx="464.3" cy="414.4" r="2.8"/><circle cx="463.5" cy="420.4" r="2.8"/><circle cx="477.8" cy="423.0" r="2.8"/><circle cx="458.0" cy="410.5" r="2.8"/><circle cx="479.0" cy="388.7" r="2.8"/><circle cx="472.7" cy="389.8" r="2.8"/><circle cx="475.2" cy="389.4" r="2.8"/><circle cx="459.4" cy="427.1" r="2.8"/><circle cx="457.1" cy="426.5" r="2.8"/><circle cx="473.1" cy="411.4" r="2.8"/><circle cx="474.1" cy="400.3" r="2.8"/><circle cx="474.8" cy="425.1" r="2.8"/><circle cx="459.2" cy="416.2" r="2.8"/><circle cx="467.8" cy="404.9" r="2.8"/><circle cx="470.4" cy="417.8" r="2.8"/><circle cx="461.7" cy="407.9" r="2.8"/><circle cx="464.5" cy="389.2" r="2.8"/><circle cx="462.9" cy="411.3" r="2.8"/><circle cx="465.8" cy="406.8" r="2.8"/><circle cx="472.0" cy="404.2" r="2.8"/><circle cx="462.1" cy="434.5" r="2.8"/><circle cx="458.2" cy="406.2" r="2.8"/><circle cx="469.1" cy="409.3" r="2.8"/><circle cx="459.6" cy="411.2" r="2.8"/><circle cx="474.7" cy="398.7" r="2.8"/><circle cx="477.5" cy="396.8" r="2.8"/><circle cx="488.5" cy="382.1" r="2.8"/><circle cx="490.0" cy="374.4" r="2.8"/><circle cx="509.5" cy="341.8" r="2.8"/><circle cx="504.7" cy="346.3" r="2.8"/><circle cx="506.1" cy="359.9" r="2.8"/><circle cx="498.2" cy="370.7" r="2.8"/><circle cx="497.8" cy="371.4" r="2.8"/><circle cx="503.3" cy="365.5" r="2.8"/><circle cx="495.7" cy="368.8" r="2.8"/><circle cx="481.6" cy="391.4" r="2.8"/><circle cx="491.1" cy="359.0" r="2.8"/><circle cx="500.1" cy="357.5" r="2.8"/><circle cx="493.2" cy="387.2" r="2.8"/><circle cx="482.7" cy="380.1" r="2.8"/><circle cx="492.7" cy="371.4" r="2.8"/><circle cx="495.8" cy="368.3" r="2.8"/><circle cx="496.2" cy="365.0" r="2.8"/><circle cx="478.1" cy="390.9" r="2.8"/><circle cx="494.4" cy="363.6" r="2.8"/><circle cx="479.3" cy="405.8" r="2.8"/><circle cx="497.1" cy="350.4" r="2.8"/><circle cx="492.9" cy="378.7" r="2.8"/><circle cx="503.6" cy="361.2" r="2.8"/><circle cx="488.1" cy="380.3" r="2.8"/><circle cx="509.1" cy="346.1" r="2.8"/><circle cx="493.5" cy="379.5" r="2.8"/><circle cx="504.4" cy="370.2" r="2.8"/><circle cx="480.6" cy="385.1" r="2.8"/><circle cx="490.8" cy="377.1" r="2.8"/><circle cx="480.3" cy="396.1" r="2.8"/><circle cx="485.6" cy="383.6" r="2.8"/><circle cx="504.5" cy="359.5" r="2.8"/><circle cx="478.7" cy="390.4" r="2.8"/><circle cx="494.1" cy="386.1" r="2.8"/><circle cx="509.9" cy="348.9" r="2.8"/><circle cx="492.4" cy="364.7" r="2.8"/><circle cx="490.9" cy="380.8" r="2.8"/><circle cx="498.5" cy="355.5" r="2.8"/><circle cx="501.7" cy="349.4" r="2.8"/><circle cx="510.9" cy="338.0" r="2.8"/><circle cx="481.9" cy="383.1" r="2.8"/><circle cx="509.2" cy="367.9" r="2.8"/><circle cx="499.2" cy="357.7" r="2.8"/><circle cx="491.2" cy="372.7" r="2.8"/><circle cx="488.3" cy="365.9" r="2.8"/><circle cx="489.5" cy="374.1" r="2.8"/><circle cx="495.9" cy="380.5" r="2.8"/><circle cx="512.8" cy="338.8" r="2.8"/><circle cx="495.3" cy="363.9" r="2.8"/><circle cx="511.7" cy="362.5" r="2.8"/><circle cx="489.7" cy="376.1" r="2.8"/><circle cx="499.2" cy="362.0" r="2.8"/><circle cx="482.3" cy="385.8" r="2.8"/><circle cx="491.9" cy="363.8" r="2.8"/><circle cx="496.5" cy="365.1" r="2.8"/><circle cx="510.7" cy="355.7" r="2.8"/><circle cx="506.7" cy="336.9" r="2.8"/><circle cx="496.7" cy="370.4" r="2.8"/><circle cx="492.2" cy="379.5" r="2.8"/><circle cx="506.6" cy="358.4" r="2.8"/><circle cx="478.7" cy="411.4" r="2.8"/><circle cx="503.7" cy="361.5" r="2.8"/><circle cx="490.9" cy="379.0" r="2.8"/><circle cx="483.6" cy="386.8" r="2.8"/><circle cx="499.2" cy="359.8" r="2.8"/><circle cx="509.1" cy="360.5" r="2.8"/><circle cx="506.2" cy="355.6" r="2.8"/><circle cx="478.7" cy="413.8" r="2.8"/><circle cx="485.9" cy="380.2" r="2.8"/><circle cx="482.3" cy="374.4" r="2.8"/><circle cx="498.1" cy="363.7" r="2.8"/><circle cx="490.9" cy="384.2" r="2.8"/><circle cx="498.6" cy="364.9" r="2.8"/><circle cx="491.6" cy="367.4" r="2.8"/><circle cx="491.7" cy="382.8" r="2.8"/><circle cx="497.8" cy="340.2" r="2.8"/><circle cx="512.4" cy="369.9" r="2.8"/><circle cx="501.5" cy="368.6" r="2.8"/><circle cx="485.5" cy="387.0" r="2.8"/><circle cx="504.7" cy="345.8" r="2.8"/><circle cx="507.5" cy="348.8" r="2.8"/><circle cx="482.3" cy="387.0" r="2.8"/><circle cx="484.9" cy="381.1" r="2.8"/><circle cx="502.6" cy="345.8" r="2.8"/><circle cx="496.3" cy="369.0" r="2.8"/><circle cx="480.2" cy="399.1" r="2.8"/><circle cx="479.4" cy="422.1" r="2.8"/><circle cx="502.4" cy="353.0" r="2.8"/><circle cx="488.4" cy="370.6" r="2.8"/><circle cx="487.6" cy="378.3" r="2.8"/><circle cx="486.6" cy="385.8" r="2.8"/><circle cx="507.1" cy="335.5" r="2.8"/><circle cx="513.0" cy="327.9" r="2.8"/><circle cx="488.8" cy="401.5" r="2.8"/><circle cx="488.9" cy="379.7" r="2.8"/><circle cx="481.5" cy="392.9" r="2.8"/><circle cx="478.6" cy="410.8" r="2.8"/><circle cx="510.7" cy="349.9" r="2.8"/><circle cx="487.5" cy="377.7" r="2.8"/><circle cx="509.7" cy="344.0" r="2.8"/><circle cx="491.3" cy="368.7" r="2.8"/><circle cx="506.4" cy="357.6" r="2.8"/><circle cx="484.2" cy="370.4" r="2.8"/><circle cx="505.2" cy="344.6" r="2.8"/><circle cx="510.2" cy="351.8" r="2.8"/><circle cx="493.0" cy="372.4" r="2.8"/><circle cx="510.0" cy="340.6" r="2.8"/><circle cx="498.6" cy="370.4" r="2.8"/><circle cx="491.6" cy="360.0" r="2.8"/><circle cx="498.5" cy="360.4" r="2.8"/><circle cx="503.4" cy="352.8" r="2.8"/><circle cx="508.4" cy="345.5" r="2.8"/><circle cx="491.2" cy="372.9" r="2.8"/><circle cx="492.0" cy="371.4" r="2.8"/><circle cx="481.0" cy="387.1" r="2.8"/><circle cx="496.4" cy="376.0" r="2.8"/><circle cx="509.5" cy="349.6" r="2.8"/><circle cx="500.1" cy="362.7" r="2.8"/><circle cx="483.2" cy="374.8" r="2.8"/><circle cx="497.7" cy="353.6" r="2.8"/><circle cx="518.7" cy="334.4" r="2.8"/><circle cx="522.2" cy="331.3" r="2.8"/><circle cx="529.4" cy="316.5" r="2.8"/><circle cx="522.2" cy="327.9" r="2.8"/><circle cx="523.4" cy="323.1" r="2.8"/><circle cx="525.7" cy="340.0" r="2.8"/><circle cx="520.5" cy="331.1" r="2.8"/><circle cx="538.2" cy="297.7" r="2.8"/><circle cx="536.0" cy="331.5" r="2.8"/><circle cx="538.8" cy="317.1" r="2.8"/><circle cx="537.9" cy="311.1" r="2.8"/><circle cx="528.4" cy="300.9" r="2.8"/><circle cx="532.3" cy="325.4" r="2.8"/><circle cx="530.1" cy="338.6" r="2.8"/><circle cx="514.5" cy="326.3" r="2.8"/><circle cx="526.0" cy="328.0" r="2.8"/><circle cx="520.6" cy="315.0" r="2.8"/><circle cx="539.0" cy="313.7" r="2.8"/><circle cx="538.4" cy="301.6" r="2.8"/><circle cx="518.1" cy="338.1" r="2.8"/><circle cx="523.1" cy="302.1" r="2.8"/><circle cx="517.8" cy="337.0" r="2.8"/><circle cx="537.6" cy="335.4" r="2.8"/><circle cx="529.8" cy="332.5" r="2.8"/><circle cx="532.8" cy="304.1" r="2.8"/><circle cx="523.7" cy="327.7" r="2.8"/><circle cx="516.4" cy="326.4" r="2.8"/><circle cx="519.6" cy="341.7" r="2.8"/><circle cx="522.2" cy="317.2" r="2.8"/><circle cx="522.4" cy="313.8" r="2.8"/></g>
<line x1="415.55" y1="475.38" x2="745.25" y2="-16.58" stroke="#BEBEBE" stroke-width="1.42"/>
<path d="M493.9,452.5 L495.0,450.8 L495.6,449.9 L497.0,448.3 L497.9,447.2 L499.0,446.2 L500.7,444.6 L501.0,444.3 L503.0,442.6 L503.9,441.9 L505.0,441.1 L507.1,439.5 L507.4,439.3 L509.1,438.1 L511.1,436.6 L511.1,436.6 L513.1,435.2 L514.6,434.0 L515.1,433.6 L517.1,431.9 L517.8,431.3 L519.1,430.1 L520.6,428.7 L521.2,428.1 L523.0,426.1 L523.2,425.9 L525.2,423.5 L525.3,423.4 L527.2,420.8 L527.2,420.8 L529.0,418.1 L529.2,417.8 L530.7,415.5 L531.2,414.5 L532.2,412.8 L533.2,410.9 L533.6,410.2 L535.0,407.6 L535.3,407.0 L536.3,404.9 L537.3,402.8 L537.5,402.3 L538.8,399.6 L539.3,398.6 L540.1,397.0 L541.3,394.6 L541.4,394.3 L542.9,391.7 L543.3,390.8 L544.3,389.1 L545.3,387.3 L545.9,386.4 L547.3,384.0 L547.5,383.8 L549.2,381.1 L549.4,380.8 L550.9,378.5 L551.4,377.7 L552.6,375.8 L553.4,374.6 L554.3,373.2 L555.4,371.4 L555.9,370.5 L557.4,368.0 L557.5,367.9 L559.0,365.3 L559.4,364.6 L560.6,362.6 L561.4,361.0 L562.0,360.0 L563.5,357.4 L563.5,357.3 L565.0,354.7 L565.5,353.8 L566.5,352.0 L567.5,350.4 L568.1,349.4 L569.5,347.1 L569.7,346.8 L571.4,344.1 L571.5,344.0 L573.3,341.5 L573.5,341.2 L575.3,338.8 L575.5,338.5 L577.4,336.2 L577.6,335.9 L579.4,333.5 L579.6,333.4 L581.4,330.9 L581.6,330.7 L583.3,328.2 L583.6,327.8 L585.0,325.6 L585.6,324.5 L586.5,323.0 L587.6,320.7 L587.8,320.3 L589.0,317.7 L589.6,316.2 L590.1,315.0 L591.1,312.4 L591.7,311.0 L592.1,309.7 L593.0,307.1 L593.7,305.2 L593.9,304.5 L594.8,301.8 L595.7,299.3 L595.7,299.2 L596.7,296.5 L597.7,293.9 L597.7,293.8 L598.7,291.2 L599.7,288.6 L599.7,288.6 L600.8,286.0 L601.7,283.7 L601.9,283.3 L603.0,280.7 L603.7,279.0 L604.2,278.0 L605.3,275.4 L605.7,274.3 L606.4,272.7 L607.6,270.1 L607.8,269.7 L608.8,267.4 L609.8,265.4 L610.1,264.8 L611.5,262.2 L611.8,261.6 L613.1,259.5 L613.8,258.5 L615.0,256.9 L615.8,255.9 L617.3,254.2 L617.8,253.6 L619.8,251.7 L619.9,251.6 L621.9,249.9 L623.0,248.9 L623.9,248.3 L625.9,246.7 L626.4,246.3 L627.9,245.1 L629.6,243.7 L629.9,243.4 L631.9,241.7 L632.7,241.0 L633.9,239.8 L635.4,238.4 L636.0,237.8 L637.8,235.7 L638.0,235.6 L640.0,233.2 L640.1,233.1 L642.0,230.5 L642.1,230.4 L643.9,227.8 L644.0,227.7 L645.7,225.2 L646.0,224.6 L647.4,222.5 L648.0,221.4 L649.0,219.9 L650.1,218.0 L650.6,217.2 L652.1,214.7 L652.2,214.6 L653.9,211.9 L654.1,211.5 L655.6,209.3 L656.1,208.6 L657.6,206.6 L658.1,205.9 L659.7,204.0 L660.1,203.5 L662.1,201.4 L662.2,201.4 L664.2,199.4 L664.9,198.7 L666.2,197.5 L667.6,196.1 L668.2,195.4 L669.9,193.4 L670.2,193.0 L671.8,190.8 L672.2,190.2 L673.4,188.1 L674.2,186.6 L674.7,185.5 L675.8,182.9 L676.2,181.7 L676.7,180.2 L677.4,177.6 L678.1,174.9 L678.3,173.9 L678.5,172.3 L678.8,169.6 L679.1,167.0 L679.2,164.4 L679.1,161.7 L679.0,159.1 L678.7,156.4 L678.3,153.8 L678.3,153.5 L677.7,151.1 L676.9,148.5 L676.2,146.4 L676.0,145.8 L674.8,143.2 L674.2,142.1 L673.3,140.6 L672.2,138.9 L671.4,137.9 L670.2,136.6 L668.9,135.3 L668.2,134.7 L666.2,133.2 L665.1,132.6 L664.2,132.1 L662.1,131.3 L660.1,130.7 L658.1,130.3 L656.1,130.1 L654.4,130.0 L654.1,130.0 L652.4,130.0 L652.1,130.0 L650.1,130.1 L648.0,130.3 L646.0,130.6 L644.0,131.0 L642.0,131.5 L640.0,132.1 L638.5,132.6 L638.0,132.8 L636.0,133.9 L633.9,135.1 L633.7,135.3 L631.9,136.8 L630.8,137.9 L629.9,138.9 L628.6,140.6 L627.9,141.4 L626.8,143.2 L625.9,144.5 L625.1,145.8 L623.9,147.8 L623.5,148.5 L621.9,151.1 L621.9,151.1 L620.1,153.8 L619.8,154.2 L618.2,156.4 L617.8,156.9 L616.1,159.1 L615.8,159.4 L613.9,161.7 L613.8,161.8 L611.8,164.0 L611.4,164.4 L609.8,166.1 L608.9,167.0 L607.8,168.1 L606.3,169.6 L605.7,170.2 L603.7,172.2 L603.7,172.3 L601.7,174.2 L601.1,174.9 L599.7,176.3 L598.5,177.6 L597.7,178.4 L596.0,180.2 L595.7,180.6 L593.7,182.8 L593.7,182.9 L591.7,185.2 L591.4,185.5 L589.6,187.5 L589.1,188.1 L587.6,190.0 L587.0,190.8 L585.6,192.5 L584.8,193.4 L583.6,194.9 L582.6,196.1 L581.6,197.2 L580.3,198.7 L579.6,199.5 L577.7,201.4 L577.6,201.5 L575.5,203.4 L574.9,204.0 L573.5,205.1 L571.7,206.6 L571.5,206.8 L569.5,208.3 L568.2,209.3 L567.5,209.8 L565.5,211.3 L564.6,211.9 L563.5,212.8 L561.4,214.4 L561.3,214.6 L559.4,216.1 L558.2,217.2 L557.4,218.0 L555.5,219.9 L555.4,220.0 L553.4,222.1 L553.1,222.5 L551.4,224.5 L550.8,225.2 L549.4,227.0 L548.8,227.8 L547.3,229.8 L546.9,230.4 L545.3,232.6 L545.0,233.1 L543.3,235.5 L543.1,235.7 L541.3,238.2 L541.2,238.4 L539.3,240.8 L539.1,241.0 L537.3,243.1 L536.7,243.7 L535.3,245.1 L534.0,246.3 L533.2,247.0 L531.2,248.6 L530.8,248.9 L529.2,250.0 L527.2,251.4 L526.8,251.6 L525.2,252.5 L523.2,253.7 L522.3,254.2 L521.2,254.8 L519.1,256.0 L517.6,256.9 L517.1,257.2 L515.1,258.4 L513.5,259.5 L513.1,259.8 L511.1,261.3 L510.1,262.2 L509.1,263.0 L507.2,264.8 L507.1,265.0 L505.0,267.1 L504.8,267.4 L503.0,269.7 L502.7,270.1 L501.0,272.6 L500.9,272.7 L499.3,275.4 L499.0,276.0 L497.9,278.0 L497.0,279.8 L496.5,280.7 L495.3,283.3 L495.0,284.0 L494.0,286.0 L493.0,288.2 L492.8,288.6 L491.4,291.2 L490.9,292.1 L489.9,293.9 L488.9,295.4 L488.2,296.5 L486.9,298.3 L486.3,299.2 L484.9,300.9 L484.2,301.8 L482.9,303.2 L481.8,304.5 L480.9,305.4 L479.3,307.1 L478.9,307.5 L476.8,309.7 L476.8,309.7 L474.8,311.7 L474.2,312.4 L472.8,313.8 L471.7,315.0 L470.8,316.0 L469.4,317.7 L468.8,318.3 L467.1,320.3 L466.8,320.7 L464.9,323.0 L464.8,323.1 L462.8,325.6 L462.7,325.6 L460.7,328.1 L460.6,328.2 L458.7,330.7 L458.6,330.9 L456.7,333.3 L456.5,333.5 L454.7,335.9 L454.5,336.2 L452.7,338.7 L452.6,338.8 L450.7,341.4 L450.6,341.5 L448.8,344.1 L448.7,344.3 L447.0,346.8 L446.6,347.3 L445.2,349.4 L444.6,350.3 L443.5,352.0 L442.6,353.6 L441.9,354.7 L440.6,357.0 L440.4,357.3 L438.9,360.0 L438.6,360.5 L437.4,362.6 L436.6,364.1 L435.9,365.3 L434.6,367.7 L434.4,367.9 L432.8,370.5 L432.5,370.9 L430.8,373.2 L430.5,373.6" fill="none" stroke="#3366FF" stroke-width="1.42"/>
<path d="M484.7,452.5 L484.9,452.1 L486.3,449.9 L486.9,449.1 L488.4,447.2 L488.9,446.6 L490.7,444.6 L490.9,444.3 L493.0,442.2 L493.2,441.9 L495.0,440.3 L496.0,439.3 L497.0,438.4 L499.0,436.7 L499.1,436.6 L501.0,435.2 L502.5,434.0 L503.0,433.6 L505.0,432.2 L506.2,431.3 L507.1,430.7 L509.1,429.2 L509.7,428.7 L511.1,427.7 L513.0,426.1 L513.1,426.0 L515.1,424.2 L515.9,423.4 L517.1,422.2 L518.5,420.8 L519.1,420.0 L520.7,418.1 L521.2,417.5 L522.7,415.5 L523.2,414.7 L524.4,412.8 L525.2,411.6 L526.0,410.2 L527.2,408.0 L527.4,407.6 L528.8,404.9 L529.2,403.9 L530.0,402.3 L531.2,399.6 L531.2,399.5 L532.4,397.0 L533.2,395.0 L533.5,394.3 L534.7,391.7 L535.3,390.5 L536.0,389.1 L537.2,386.4 L537.3,386.3 L538.6,383.8 L539.3,382.6 L540.1,381.1 L541.3,379.1 L541.7,378.5 L543.3,375.8 L543.3,375.8 L545.0,373.2 L545.3,372.7 L546.8,370.5 L547.3,369.6 L548.5,367.9 L549.4,366.5 L550.1,365.3 L551.4,363.2 L551.7,362.6 L553.2,360.0 L553.4,359.7 L554.7,357.3 L555.4,356.0 L556.1,354.7 L557.4,352.1 L557.4,352.0 L558.8,349.4 L559.4,348.0 L560.0,346.8 L561.3,344.1 L561.4,343.8 L562.6,341.5 L563.5,339.6 L563.8,338.8 L565.2,336.2 L565.5,335.5 L566.5,333.5 L567.5,331.7 L567.9,330.9 L569.4,328.2 L569.5,328.1 L570.9,325.6 L571.5,324.5 L572.4,323.0 L573.5,321.0 L573.9,320.3 L575.3,317.7 L575.5,317.3 L576.7,315.0 L577.6,313.2 L578.0,312.4 L579.1,309.7 L579.6,308.6 L580.2,307.1 L581.2,304.5 L581.6,303.3 L582.1,301.8 L582.9,299.2 L583.6,297.0 L583.8,296.5 L584.5,293.9 L585.3,291.2 L585.6,290.1 L586.0,288.6 L586.7,286.0 L587.4,283.3 L587.6,282.5 L588.1,280.7 L588.7,278.0 L589.3,275.4 L589.6,273.6 L589.8,272.7 L590.3,270.1 L590.7,267.4 L591.0,264.8 L591.2,262.2 L591.4,259.5 L591.4,256.9 L591.4,254.2 L591.2,251.6 L590.9,248.9 L590.4,246.3 L589.7,243.7 L589.6,243.4 L588.7,241.0 L587.6,239.0 L587.2,238.4 L585.6,236.5 L584.7,235.7 L583.6,234.9 L581.6,233.8 L579.7,233.1 L579.6,233.0 L577.6,232.5 L575.5,232.3 L573.5,232.2 L571.5,232.4 L569.5,232.7 L568.3,233.1 L567.5,233.3 L565.5,234.1 L563.5,235.1 L562.4,235.7 L561.4,236.3 L559.4,237.7 L558.6,238.4 L557.4,239.3 L555.6,241.0 L555.4,241.1 L553.4,243.1 L552.8,243.7 L551.4,245.1 L550.2,246.3 L549.4,247.1 L547.5,248.9 L547.3,249.0 L545.3,250.9 L544.6,251.6 L543.3,252.6 L541.4,254.2 L541.3,254.3 L539.3,255.7 L537.6,256.9 L537.3,257.0 L535.3,258.2 L533.2,259.4 L532.9,259.5 L531.2,260.4 L529.2,261.4 L527.6,262.2 L527.2,262.3 L525.2,263.3 L523.2,264.3 L522.3,264.8 L521.2,265.4 L519.1,266.6 L517.8,267.4 L517.1,267.9 L515.1,269.4 L514.2,270.1 L513.1,271.0 L511.4,272.7 L511.1,273.0 L509.1,275.3 L509.0,275.4 L507.1,277.9 L507.0,278.0 L505.2,280.7 L505.0,280.9 L503.6,283.3 L503.0,284.4 L502.2,286.0 L501.0,288.2 L500.8,288.6 L499.4,291.2 L499.0,292.0 L498.0,293.9 L497.0,295.7 L496.5,296.5 L495.0,299.0 L494.8,299.2 L493.0,301.8 L493.0,301.8 L490.9,304.3 L490.8,304.5 L488.9,306.6 L488.5,307.1 L486.9,308.7 L485.9,309.7 L484.9,310.7 L483.2,312.4 L482.9,312.7 L480.9,314.7 L480.6,315.0 L478.9,316.7 L478.0,317.7 L476.8,318.8 L475.5,320.3 L474.8,321.0 L473.1,323.0 L472.8,323.3 L470.8,325.6 L470.8,325.6 L468.8,328.0 L468.6,328.2 L466.8,330.5 L466.5,330.9 L464.8,333.0 L464.3,333.5 L462.7,335.6 L462.3,336.2 L460.7,338.2 L460.2,338.8 L458.7,340.8 L458.2,341.5 L456.7,343.5 L456.2,344.1 L454.7,346.2 L454.3,346.8 L452.7,349.1 L452.5,349.4 L450.7,352.0 L450.7,352.0 L448.9,354.7 L448.7,355.1 L447.2,357.3 L446.6,358.3 L445.6,360.0 L444.6,361.7 L444.1,362.6 L442.6,365.3 L442.6,365.3 L441.1,367.9 L440.6,369.0 L439.7,370.5 L438.6,372.8 L438.4,373.2 L437.0,375.8 L436.6,376.6 L435.5,378.5 L434.6,380.3 L434.1,381.1 L432.5,383.7 L432.5,383.8 L430.5,386.4" fill="none" stroke="#3366FF" stroke-width="1.42"/>
<path d="M606.2,219.9 L607.8,221.0 L609.8,221.7 L611.8,221.9 L613.8,221.6 L615.8,221.0 L617.8,220.0 L618.1,219.9 L619.8,218.5 L621.1,217.2 L621.9,216.3 L623.0,214.6 L623.9,212.9 L624.3,211.9 L625.0,209.3 L625.3,206.6 L625.3,204.0 L624.7,201.4 L623.9,199.2 L623.6,198.7 L621.9,196.5 L621.3,196.1 L619.8,195.2 L617.8,194.7 L615.8,194.8 L613.8,195.4 L612.4,196.1 L611.8,196.5 L609.8,198.1 L609.2,198.7 L607.8,200.5 L607.1,201.4 L605.7,203.8 L605.6,204.0 L604.6,206.6 L603.9,209.3 L603.7,210.7 L603.6,211.9 L603.7,214.6 L603.7,214.8 L604.4,217.2 L605.7,219.4 L606.2,219.9" fill="none" stroke="#3366FF" stroke-width="1.42"/>
<path d="M478.0,452.5 L478.9,451.3 L479.9,449.9 L480.9,448.7 L482.1,447.2 L482.9,446.3 L484.4,444.6 L484.9,444.1 L486.9,441.9 L486.9,441.9 L488.9,439.8 L489.4,439.3 L490.9,437.7 L492.0,436.6 L493.0,435.8 L494.9,434.0 L495.0,433.9 L497.0,432.2 L498.1,431.3 L499.0,430.6 L501.0,429.1 L501.5,428.7 L503.0,427.6 L505.0,426.1 L505.1,426.1 L507.1,424.6 L508.6,423.4 L509.1,423.0 L511.1,421.3 L511.7,420.8 L513.1,419.5 L514.4,418.1 L515.1,417.4 L516.8,415.5 L517.1,415.1 L518.8,412.8 L519.1,412.4 L520.6,410.2 L521.2,409.4 L522.2,407.6 L523.2,405.9 L523.7,404.9 L525.0,402.3 L525.2,401.9 L526.2,399.6 L527.2,397.4 L527.4,397.0 L528.5,394.3 L529.2,392.7 L529.6,391.7 L530.8,389.1 L531.2,388.0 L531.9,386.4 L533.2,383.8 L533.2,383.6 L534.5,381.1 L535.3,379.7 L535.9,378.5 L537.3,376.1 L537.4,375.8 L539.0,373.2 L539.3,372.8 L540.7,370.5 L541.3,369.6 L542.4,367.9 L543.3,366.5 L544.1,365.3 L545.3,363.3 L545.7,362.6 L547.3,360.0 L547.3,360.0 L548.9,357.3 L549.4,356.4 L550.3,354.7 L551.4,352.6 L551.7,352.0 L552.9,349.4 L553.4,348.4 L554.2,346.8 L555.3,344.1 L555.4,343.9 L556.4,341.5 L557.4,339.0 L557.5,338.8 L558.6,336.2 L559.4,334.0 L559.6,333.5 L560.7,330.9 L561.4,329.0 L561.8,328.2 L562.9,325.6 L563.5,324.2 L564.0,323.0 L565.1,320.3 L565.5,319.5 L566.3,317.7 L567.4,315.0 L567.5,314.9 L568.6,312.4 L569.5,310.1 L569.6,309.7 L570.7,307.1 L571.5,304.9 L571.7,304.5 L572.6,301.8 L573.4,299.2 L573.5,298.7 L574.1,296.5 L574.8,293.9 L575.4,291.2 L575.5,290.6 L575.9,288.6 L576.4,286.0 L576.8,283.3 L577.1,280.7 L577.3,278.0 L577.4,275.4 L577.3,272.7 L577.2,270.1 L576.9,267.4 L576.3,264.8 L575.5,262.3 L575.5,262.2 L574.2,259.5 L573.5,258.4 L572.3,256.9 L571.5,256.1 L569.5,254.7 L568.3,254.2 L567.5,253.9 L565.5,253.6 L563.5,253.7 L561.4,254.1 L561.2,254.2 L559.4,254.8 L557.4,255.6 L555.4,256.6 L555.0,256.9 L553.4,257.7 L551.4,258.9 L550.3,259.5 L549.4,260.0 L547.3,261.1 L545.5,262.2 L545.3,262.2 L543.3,263.2 L541.3,264.2 L540.0,264.8 L539.3,265.1 L537.3,265.9 L535.3,266.8 L533.5,267.4 L533.2,267.6 L531.2,268.3 L529.2,269.1 L527.2,270.0 L527.0,270.1 L525.2,270.9 L523.2,271.9 L521.7,272.7 L521.2,273.1 L519.1,274.4 L517.8,275.4 L517.1,275.9 L515.1,277.6 L514.7,278.0 L513.1,279.7 L512.3,280.7 L511.1,282.1 L510.2,283.3 L509.1,284.9 L508.4,286.0 L507.1,288.1 L506.8,288.6 L505.2,291.2 L505.0,291.6 L503.7,293.9 L503.0,295.1 L502.2,296.5 L501.0,298.5 L500.6,299.2 L499.0,301.6 L498.9,301.8 L497.0,304.4 L496.9,304.5 L495.0,306.8 L494.7,307.1 L493.0,309.0 L492.3,309.7 L490.9,311.1 L489.6,312.4 L488.9,313.0 L486.9,315.0 L486.9,315.0 L484.9,316.9 L484.1,317.7 L482.9,318.8 L481.4,320.3 L480.9,320.9 L478.9,323.0 L478.9,323.0 L476.8,325.1 L476.4,325.6 L474.8,327.4 L474.1,328.2 L472.8,329.7 L471.9,330.9 L470.8,332.2 L469.7,333.5 L468.8,334.7 L467.6,336.2 L466.8,337.2 L465.5,338.8 L464.8,339.8 L463.5,341.5 L462.7,342.4 L461.4,344.1 L460.7,345.0 L459.4,346.8 L458.7,347.7 L457.5,349.4 L456.7,350.5 L455.6,352.0 L454.7,353.3 L453.7,354.7 L452.7,356.3 L452.0,357.3 L450.7,359.4 L450.3,360.0 L448.7,362.6 L448.7,362.7 L447.1,365.3 L446.6,366.1 L445.6,367.9 L444.6,369.7 L444.1,370.5 L442.8,373.2 L442.6,373.5 L441.4,375.8 L440.6,377.4 L440.0,378.5 L438.7,381.1 L438.6,381.4 L437.4,383.8 L436.6,385.4 L436.0,386.4 L434.7,389.1 L434.6,389.3 L433.1,391.7 L432.5,392.7 L431.3,394.3 L430.5,395.5" fill="none" stroke="#3366FF" stroke-width="1.42"/>
<path d="M471.9,452.5 L472.8,451.5 L474.1,449.9 L474.8,449.2 L476.7,447.2 L476.8,447.1 L478.9,445.0 L479.3,444.6 L480.9,443.0 L481.9,441.9 L482.9,440.9 L484.4,439.3 L484.9,438.7 L486.9,436.6 L486.9,436.6 L488.9,434.5 L489.5,434.0 L490.9,432.6 L492.3,431.3 L493.0,430.7 L495.0,429.0 L495.3,428.7 L497.0,427.3 L498.6,426.1 L499.0,425.8 L501.0,424.3 L502.1,423.4 L503.0,422.8 L505.0,421.2 L505.6,420.8 L507.1,419.6 L508.8,418.1 L509.1,417.9 L511.1,416.0 L511.6,415.5 L513.1,413.9 L514.0,412.8 L515.1,411.5 L516.1,410.2 L517.1,408.7 L517.9,407.6 L519.1,405.5 L519.5,404.9 L520.9,402.3 L521.2,401.8 L522.3,399.6 L523.2,397.6 L523.5,397.0 L524.6,394.3 L525.2,392.9 L525.7,391.7 L526.8,389.1 L527.2,388.0 L527.9,386.4 L529.0,383.8 L529.2,383.4 L530.3,381.1 L531.2,379.2 L531.6,378.5 L533.0,375.8 L533.2,375.4 L534.5,373.2 L535.3,371.9 L536.1,370.5 L537.3,368.6 L537.7,367.9 L539.3,365.4 L539.4,365.3 L541.0,362.6 L541.3,362.2 L542.7,360.0 L543.3,358.9 L544.2,357.3 L545.3,355.3 L545.7,354.7 L547.1,352.0 L547.3,351.5 L548.4,349.4 L549.4,347.3 L549.6,346.8 L550.7,344.1 L551.4,342.5 L551.8,341.5 L552.8,338.8 L553.4,337.2 L553.7,336.2 L554.7,333.5 L555.4,331.3 L555.5,330.9 L556.4,328.2 L557.2,325.6 L557.4,325.0 L558.1,323.0 L558.9,320.3 L559.4,318.7 L559.8,317.7 L560.6,315.0 L561.4,312.4 L561.5,312.4 L562.3,309.7 L563.1,307.1 L563.5,305.8 L563.8,304.5 L564.5,301.8 L565.2,299.2 L565.5,297.6 L565.7,296.5 L566.1,293.9 L566.5,291.2 L566.7,288.6 L566.7,286.0 L566.6,283.3 L566.2,280.7 L565.6,278.0 L565.5,277.7 L564.5,275.4 L563.5,273.8 L562.5,272.7 L561.4,271.8 L559.4,270.7 L557.4,270.1 L557.2,270.1 L555.4,269.9 L553.4,270.0 L552.3,270.1 L551.4,270.2 L549.4,270.5 L547.3,270.9 L545.3,271.3 L543.3,271.8 L541.3,272.3 L539.4,272.7 L539.3,272.8 L537.3,273.3 L535.3,273.8 L533.2,274.3 L531.2,275.0 L530.0,275.4 L529.2,275.7 L527.2,276.4 L525.2,277.4 L523.9,278.0 L523.2,278.4 L521.2,279.7 L519.8,280.7 L519.1,281.2 L517.1,282.9 L516.7,283.3 L515.1,285.0 L514.3,286.0 L513.1,287.4 L512.2,288.6 L511.1,290.2 L510.4,291.2 L509.1,293.3 L508.7,293.9 L507.1,296.5 L507.1,296.6 L505.5,299.2 L505.0,299.8 L503.7,301.8 L503.0,302.8 L501.8,304.5 L501.0,305.5 L499.8,307.1 L499.0,308.0 L497.4,309.7 L497.0,310.2 L495.0,312.3 L494.9,312.4 L493.0,314.2 L492.1,315.0 L490.9,316.1 L489.2,317.7 L488.9,317.9 L486.9,319.8 L486.4,320.3 L484.9,321.7 L483.6,323.0 L482.9,323.7 L481.0,325.6 L480.9,325.8 L478.9,327.9 L478.6,328.2 L476.8,330.2 L476.2,330.9 L474.8,332.6 L474.0,333.5 L472.8,335.0 L471.9,336.2 L470.8,337.5 L469.8,338.8 L468.8,340.0 L467.7,341.5 L466.8,342.6 L465.6,344.1 L464.8,345.2 L463.6,346.8 L462.7,347.8 L461.6,349.4 L460.7,350.5 L459.6,352.0 L458.7,353.2 L457.7,354.7 L456.7,356.1 L455.8,357.3 L454.7,359.0 L454.0,360.0 L452.7,362.1 L452.3,362.6 L450.7,365.3 L450.7,365.4 L449.2,367.9 L448.7,368.8 L447.6,370.5 L446.6,372.4 L446.2,373.2 L444.8,375.8 L444.6,376.2 L443.5,378.5 L442.6,380.2 L442.1,381.1 L440.9,383.8 L440.6,384.3 L439.6,386.4 L438.6,388.5 L438.3,389.1 L437.1,391.7 L436.6,392.7 L435.8,394.3 L434.6,396.8 L434.5,397.0 L433.0,399.6 L432.5,400.4 L431.2,402.3 L430.5,403.3" fill="none" stroke="#3366FF" stroke-width="1.42"/>
<path d="M465.5,452.5 L466.8,451.4 L468.3,449.9 L468.8,449.5 L470.8,447.8 L471.5,447.2 L472.8,446.1 L474.5,444.6 L474.8,444.3 L476.8,442.5 L477.4,441.9 L478.9,440.5 L480.1,439.3 L480.9,438.5 L482.6,436.6 L482.9,436.4 L484.9,434.2 L485.1,434.0 L486.9,432.2 L487.7,431.3 L488.9,430.1 L490.4,428.7 L490.9,428.2 L493.0,426.4 L493.4,426.1 L495.0,424.7 L496.6,423.4 L497.0,423.1 L499.0,421.6 L500.1,420.8 L501.0,420.1 L503.0,418.5 L503.5,418.1 L505.0,416.9 L506.7,415.5 L507.1,415.2 L509.1,413.3 L509.5,412.8 L511.1,411.1 L511.9,410.2 L513.1,408.7 L514.0,407.6 L515.1,405.9 L515.8,404.9 L517.1,402.6 L517.3,402.3 L518.7,399.6 L519.1,398.8 L520.0,397.0 L521.2,394.4 L521.2,394.3 L522.3,391.7 L523.2,389.6 L523.4,389.1 L524.5,386.4 L525.2,384.7 L525.6,383.8 L526.8,381.1 L527.2,380.2 L528.0,378.5 L529.2,376.0 L529.3,375.8 L530.7,373.2 L531.2,372.3 L532.2,370.5 L533.2,368.8 L533.8,367.9 L535.3,365.5 L535.4,365.3 L537.0,362.6 L537.3,362.2 L538.6,360.0 L539.3,358.9 L540.2,357.3 L541.3,355.4 L541.7,354.7 L543.1,352.0 L543.3,351.7 L544.5,349.4 L545.3,347.5 L545.7,346.8 L546.8,344.1 L547.3,342.8 L547.9,341.5 L548.8,338.8 L549.4,337.2 L549.7,336.2 L550.5,333.5 L551.3,330.9 L551.4,330.6 L552.0,328.2 L552.7,325.6 L553.4,323.0 L553.4,322.9 L554.0,320.3 L554.6,317.7 L555.2,315.0 L555.4,313.8 L555.7,312.4 L556.2,309.7 L556.7,307.1 L557.1,304.5 L557.4,301.8 L557.4,301.8 L557.6,299.2 L557.7,296.5 L557.6,293.9 L557.4,292.0 L557.3,291.2 L556.6,288.6 L555.5,286.0 L555.4,285.8 L553.4,283.3 L553.4,283.3 L551.4,281.9 L549.4,280.9 L548.4,280.7 L547.3,280.4 L545.3,280.0 L543.3,279.9 L541.3,279.8 L539.3,279.9 L537.3,280.0 L535.3,280.3 L533.2,280.6 L533.1,280.7 L531.2,281.1 L529.2,281.7 L527.2,282.5 L525.4,283.3 L525.2,283.4 L523.2,284.5 L521.2,285.9 L521.1,286.0 L519.1,287.6 L518.1,288.6 L517.1,289.6 L515.7,291.2 L515.1,291.9 L513.6,293.9 L513.1,294.6 L511.7,296.5 L511.1,297.5 L509.9,299.2 L509.1,300.4 L508.1,301.8 L507.1,303.3 L506.3,304.5 L505.0,306.0 L504.2,307.1 L503.0,308.5 L502.0,309.7 L501.0,310.8 L499.5,312.4 L499.0,312.8 L497.0,314.8 L496.7,315.0 L495.0,316.6 L493.8,317.7 L493.0,318.4 L490.9,320.2 L490.9,320.3 L488.9,322.0 L487.9,323.0 L486.9,323.9 L485.2,325.6 L484.9,325.9 L482.9,327.9 L482.6,328.2 L480.9,330.0 L480.1,330.9 L478.9,332.3 L477.8,333.5 L476.8,334.6 L475.6,336.2 L474.8,337.1 L473.4,338.8 L472.8,339.6 L471.3,341.5 L470.8,342.1 L469.3,344.1 L468.8,344.7 L467.2,346.8 L466.8,347.3 L465.2,349.4 L464.8,349.9 L463.1,352.0 L462.7,352.5 L461.1,354.7 L460.7,355.2 L459.2,357.3 L458.7,358.0 L457.3,360.0 L456.7,360.9 L455.6,362.6 L454.7,364.0 L453.9,365.3 L452.7,367.2 L452.2,367.9 L450.7,370.5 L450.7,370.6 L449.2,373.2 L448.7,374.2 L447.8,375.8 L446.6,378.0 L446.4,378.5 L445.1,381.1 L444.6,382.1 L443.8,383.8 L442.6,386.3 L442.5,386.4 L441.3,389.1 L440.6,390.6 L440.1,391.7 L438.9,394.3 L438.6,395.0 L437.7,397.0 L436.6,399.5 L436.5,399.6 L435.3,402.3 L434.6,403.8 L434.0,404.9 L432.6,407.6 L432.5,407.7 L430.9,410.2 L430.5,410.8" fill="none" stroke="#3366FF" stroke-width="1.42"/>
<path d="M457.6,452.5 L458.7,451.8 L460.7,450.4 L461.5,449.9 L462.7,449.1 L464.8,447.9 L465.7,447.2 L466.8,446.5 L468.8,445.2 L469.6,444.6 L470.8,443.7 L472.8,442.1 L473.0,441.9 L474.8,440.4 L476.0,439.3 L476.8,438.5 L478.7,436.6 L478.9,436.5 L480.9,434.5 L481.3,434.0 L482.9,432.3 L483.8,431.3 L484.9,430.2 L486.4,428.7 L486.9,428.2 L488.9,426.2 L489.1,426.1 L490.9,424.3 L492.0,423.4 L493.0,422.6 L495.0,420.9 L495.2,420.8 L497.0,419.3 L498.5,418.1 L499.0,417.8 L501.0,416.2 L501.9,415.5 L503.0,414.6 L505.0,412.8 L505.0,412.8 L507.1,410.9 L507.8,410.2 L509.1,408.8 L510.2,407.6 L511.1,406.4 L512.2,404.9 L513.1,403.6 L513.9,402.3 L515.1,400.3 L515.5,399.6 L516.8,397.0 L517.1,396.4 L518.1,394.3 L519.1,391.9 L519.2,391.7 L520.3,389.1 L521.2,387.1 L521.4,386.4 L522.5,383.8 L523.2,382.2 L523.6,381.1 L524.8,378.5 L525.2,377.7 L526.1,375.8 L527.2,373.6 L527.4,373.2 L528.8,370.5 L529.2,369.9 L530.3,367.9 L531.2,366.4 L531.9,365.3 L533.2,363.0 L533.5,362.6 L535.1,360.0 L535.3,359.7 L536.6,357.3 L537.3,356.2 L538.2,354.7 L539.3,352.6 L539.6,352.0 L540.9,349.4 L541.3,348.6 L542.2,346.8 L543.3,344.1 L543.3,344.1 L544.3,341.5 L545.3,338.8 L545.3,338.6 L546.1,336.2 L546.9,333.5 L547.3,331.7 L547.6,330.9 L548.2,328.2 L548.7,325.6 L549.2,323.0 L549.4,322.2 L549.7,320.3 L550.1,317.7 L550.4,315.0 L550.7,312.4 L550.9,309.7 L551.0,307.1 L551.0,304.5 L550.8,301.8 L550.4,299.2 L549.8,296.5 L549.4,295.4 L548.7,293.9 L547.3,291.8 L546.8,291.2 L545.3,289.9 L543.4,288.6 L543.3,288.5 L541.3,287.7 L539.3,287.2 L537.3,286.9 L535.3,286.8 L533.2,286.9 L531.2,287.2 L529.2,287.7 L527.2,288.4 L526.8,288.6 L525.2,289.3 L523.2,290.6 L522.2,291.2 L521.2,292.1 L519.2,293.9 L519.1,293.9 L517.1,296.0 L516.7,296.5 L515.1,298.4 L514.6,299.2 L513.1,301.1 L512.5,301.8 L511.1,303.7 L510.5,304.5 L509.1,306.3 L508.5,307.1 L507.1,308.8 L506.2,309.7 L505.0,311.0 L503.8,312.4 L503.0,313.1 L501.1,315.0 L501.0,315.1 L499.0,316.9 L498.2,317.7 L497.0,318.7 L495.1,320.3 L495.0,320.4 L493.0,322.1 L492.0,323.0 L490.9,323.9 L489.1,325.6 L488.9,325.7 L486.9,327.6 L486.3,328.2 L484.9,329.6 L483.7,330.9 L482.9,331.7 L481.3,333.5 L480.9,334.0 L479.0,336.2 L478.9,336.3 L476.8,338.8 L476.8,338.8 L474.8,341.3 L474.7,341.5 L472.8,343.8 L472.6,344.1 L470.8,346.4 L470.5,346.8 L468.8,348.9 L468.4,349.4 L466.8,351.5 L466.4,352.0 L464.8,354.1 L464.3,354.7 L462.7,356.8 L462.3,357.3 L460.7,359.5 L460.4,360.0 L458.7,362.3 L458.5,362.6 L456.8,365.3 L456.7,365.3 L455.1,367.9 L454.7,368.5 L453.4,370.5 L452.7,371.8 L451.9,373.2 L450.7,375.4 L450.4,375.8 L449.0,378.5 L448.7,379.2 L447.7,381.1 L446.6,383.3 L446.4,383.8 L445.1,386.4 L444.6,387.5 L443.9,389.1 L442.7,391.7 L442.6,392.0 L441.5,394.3 L440.6,396.6 L440.4,397.0 L439.3,399.6 L438.6,401.4 L438.2,402.3 L437.1,404.9 L436.6,406.3 L436.0,407.6 L434.9,410.2 L434.6,411.1 L433.7,412.8 L432.6,415.5 L432.5,415.5 L431.1,418.1 L430.5,419.2" fill="none" stroke="#3366FF" stroke-width="1.42"/>
<path d="M440.5,449.9 L440.6,449.9 L442.6,450.6 L444.6,450.8 L446.6,450.7 L448.7,450.3 L450.2,449.9 L450.7,449.8 L452.7,449.2 L454.7,448.5 L456.7,447.7 L457.9,447.2 L458.7,446.9 L460.7,446.1 L462.7,445.1 L463.7,444.6 L464.8,444.0 L466.8,442.9 L468.2,441.9 L468.8,441.5 L470.8,440.1 L471.8,439.3 L472.8,438.5 L474.8,436.7 L474.9,436.6 L476.8,434.8 L477.7,434.0 L478.9,432.8 L480.3,431.3 L480.9,430.7 L482.8,428.7 L482.9,428.6 L484.9,426.5 L485.4,426.1 L486.9,424.5 L488.1,423.4 L488.9,422.6 L490.9,420.8 L490.9,420.7 L493.0,419.0 L494.0,418.1 L495.0,417.4 L497.0,415.7 L497.3,415.5 L499.0,414.1 L500.6,412.8 L501.0,412.5 L503.0,410.7 L503.6,410.2 L505.0,408.9 L506.3,407.6 L507.1,406.7 L508.6,404.9 L509.1,404.3 L510.6,402.3 L511.1,401.5 L512.3,399.6 L513.1,398.2 L513.8,397.0 L515.1,394.3 L515.1,394.3 L516.3,391.7 L517.1,389.8 L517.5,389.1 L518.6,386.4 L519.1,385.0 L519.7,383.8 L520.8,381.1 L521.2,380.2 L521.9,378.5 L523.1,375.8 L523.2,375.7 L524.4,373.2 L525.2,371.7 L525.8,370.5 L527.2,367.9 L527.2,367.9 L528.7,365.3 L529.2,364.4 L530.3,362.6 L531.2,361.0 L531.8,360.0 L533.2,357.5 L533.3,357.3 L534.8,354.7 L535.3,353.9 L536.3,352.0 L537.3,350.1 L537.6,349.4 L538.9,346.8 L539.3,345.8 L540.0,344.1 L541.0,341.5 L541.3,340.6 L541.9,338.8 L542.7,336.2 L543.3,334.0 L543.4,333.5 L544.0,330.9 L544.6,328.2 L545.0,325.6 L545.3,323.2 L545.4,323.0 L545.6,320.3 L545.8,317.7 L545.9,315.0 L545.9,312.4 L545.8,309.7 L545.5,307.1 L545.3,306.3 L544.9,304.5 L544.1,301.8 L543.3,300.1 L542.8,299.2 L541.3,297.2 L540.6,296.5 L539.3,295.5 L537.3,294.4 L535.6,293.9 L535.3,293.8 L533.2,293.5 L531.2,293.5 L529.2,293.9 L529.2,293.9 L527.2,294.5 L525.2,295.4 L523.4,296.5 L523.2,296.7 L521.2,298.2 L520.1,299.2 L519.1,300.1 L517.5,301.8 L517.1,302.2 L515.1,304.5 L515.1,304.5 L513.1,306.8 L512.8,307.1 L511.1,309.1 L510.5,309.7 L509.1,311.3 L508.0,312.4 L507.1,313.3 L505.3,315.0 L505.0,315.3 L503.0,317.1 L502.4,317.7 L501.0,318.8 L499.3,320.3 L499.0,320.5 L497.0,322.2 L496.0,323.0 L495.0,323.8 L493.0,325.5 L492.9,325.6 L490.9,327.3 L489.9,328.2 L488.9,329.1 L487.1,330.9 L486.9,331.1 L484.9,333.2 L484.6,333.5 L482.9,335.4 L482.2,336.2 L480.9,337.7 L479.9,338.8 L478.9,340.1 L477.8,341.5 L476.8,342.6 L475.7,344.1 L474.8,345.2 L473.6,346.8 L472.8,347.7 L471.5,349.4 L470.8,350.3 L469.4,352.0 L468.8,352.8 L467.3,354.7 L466.8,355.4 L465.3,357.3 L464.8,358.0 L463.3,360.0 L462.7,360.7 L461.3,362.6 L460.7,363.5 L459.5,365.3 L458.7,366.4 L457.7,367.9 L456.7,369.5 L456.0,370.5 L454.7,372.8 L454.4,373.2 L452.9,375.8 L452.7,376.3 L451.5,378.5 L450.7,380.1 L450.1,381.1 L448.8,383.8 L448.7,384.1 L447.5,386.4 L446.6,388.3 L446.3,389.1 L445.1,391.7 L444.6,392.9 L444.0,394.3 L442.9,397.0 L442.6,397.7 L441.8,399.6 L440.8,402.3 L440.6,402.8 L439.8,404.9 L438.8,407.6 L438.6,408.1 L437.8,410.2 L436.9,412.8 L436.6,413.9 L436.0,415.5 L435.1,418.1 L434.6,419.9 L434.2,420.8 L433.4,423.4 L432.7,426.1 L432.5,426.6 L431.9,428.7 L431.3,431.3 L431.1,434.0 L431.1,436.6 L431.7,439.3 L432.5,441.2 L432.8,441.9 L434.4,444.6 L434.6,444.8 L436.6,447.1 L436.7,447.2 L438.6,448.8 L440.5,449.9" fill="none" stroke="#3366FF" stroke-width="1.42"/>
<path d="M444.7,444.6 L446.6,444.9 L448.7,445.0 L450.7,444.9 L452.7,444.7 L453.2,444.6 L454.7,444.3 L456.7,443.8 L458.7,443.2 L460.7,442.5 L462.0,441.9 L462.7,441.6 L464.8,440.6 L466.8,439.5 L467.1,439.3 L468.8,438.2 L470.8,436.7 L470.9,436.6 L472.8,435.1 L474.0,434.0 L474.8,433.3 L476.8,431.3 L476.9,431.3 L478.9,429.3 L479.4,428.7 L480.9,427.2 L482.0,426.1 L482.9,425.1 L484.5,423.4 L484.9,423.0 L486.9,421.0 L487.2,420.8 L488.9,419.1 L490.1,418.1 L490.9,417.3 L493.0,415.6 L493.1,415.5 L495.0,413.9 L496.3,412.8 L497.0,412.3 L499.0,410.6 L499.5,410.2 L501.0,408.8 L502.4,407.6 L503.0,406.9 L505.0,404.9 L505.0,404.8 L507.1,402.4 L507.2,402.3 L509.1,399.7 L509.1,399.6 L510.7,397.0 L511.1,396.4 L512.2,394.3 L513.1,392.5 L513.5,391.7 L514.7,389.1 L515.1,388.0 L515.8,386.4 L516.9,383.8 L517.1,383.2 L518.0,381.1 L519.1,378.5 L519.1,378.5 L520.3,375.8 L521.2,374.1 L521.6,373.2 L522.9,370.5 L523.2,370.0 L524.3,367.9 L525.2,366.3 L525.7,365.3 L527.2,362.7 L527.2,362.6 L528.7,360.0 L529.2,359.1 L530.2,357.3 L531.2,355.5 L531.7,354.7 L533.1,352.0 L533.2,351.8 L534.4,349.4 L535.3,347.7 L535.7,346.8 L536.8,344.1 L537.3,342.8 L537.8,341.5 L538.7,338.8 L539.3,336.7 L539.4,336.2 L540.1,333.5 L540.6,330.9 L541.0,328.2 L541.3,326.0 L541.3,325.6 L541.5,323.0 L541.6,320.3 L541.6,317.7 L541.4,315.0 L541.3,314.4 L541.0,312.4 L540.4,309.7 L539.4,307.1 L539.3,306.8 L537.8,304.5 L537.3,303.7 L535.3,301.9 L535.0,301.8 L533.2,301.0 L531.2,300.5 L529.2,300.6 L527.2,301.0 L525.2,301.8 L525.1,301.8 L523.2,302.9 L521.2,304.4 L521.0,304.5 L519.1,306.0 L518.0,307.1 L517.1,307.9 L515.3,309.7 L515.1,309.9 L513.1,311.9 L512.6,312.4 L511.1,313.8 L509.8,315.0 L509.1,315.6 L507.1,317.4 L506.7,317.7 L505.0,319.1 L503.5,320.3 L503.0,320.7 L501.0,322.3 L500.2,323.0 L499.0,323.9 L497.0,325.4 L496.8,325.6 L495.0,327.1 L493.6,328.2 L493.0,328.8 L490.9,330.6 L490.6,330.9 L488.9,332.4 L487.8,333.5 L486.9,334.5 L485.3,336.2 L484.9,336.6 L483.0,338.8 L482.9,338.9 L480.9,341.3 L480.8,341.5 L478.9,343.8 L478.6,344.1 L476.8,346.4 L476.6,346.8 L474.8,348.9 L474.5,349.4 L472.8,351.5 L472.4,352.0 L470.8,354.0 L470.3,354.7 L468.8,356.6 L468.2,357.3 L466.8,359.1 L466.1,360.0 L464.8,361.7 L464.1,362.6 L462.7,364.4 L462.2,365.3 L460.7,367.3 L460.3,367.9 L458.7,370.3 L458.5,370.5 L456.9,373.2 L456.7,373.5 L455.3,375.8 L454.7,376.9 L453.8,378.5 L452.7,380.6 L452.4,381.1 L451.1,383.8 L450.7,384.6 L449.8,386.4 L448.7,388.9 L448.6,389.1 L447.4,391.7 L446.6,393.5 L446.3,394.3 L445.2,397.0 L444.6,398.4 L444.1,399.6 L443.2,402.3 L442.6,403.8 L442.2,404.9 L441.3,407.6 L440.6,409.7 L440.4,410.2 L439.6,412.8 L438.9,415.5 L438.6,416.6 L438.2,418.1 L437.5,420.8 L437.0,423.4 L436.6,426.1 L436.6,426.2 L436.3,428.7 L436.2,431.3 L436.4,434.0 L436.6,434.9 L436.9,436.6 L438.0,439.3 L438.6,440.2 L439.9,441.9 L440.6,442.5 L442.6,443.8 L444.6,444.6 L444.7,444.6" fill="none" stroke="#3366FF" stroke-width="1.42"/>
<path d="M445.7,439.3 L446.6,439.7 L448.7,440.3 L450.7,440.6 L452.7,440.6 L454.7,440.5 L456.7,440.2 L458.7,439.7 L460.1,439.3 L460.7,439.1 L462.7,438.3 L464.8,437.3 L466.0,436.6 L466.8,436.2 L468.8,434.9 L470.0,434.0 L470.8,433.4 L472.8,431.8 L473.3,431.3 L474.8,429.9 L476.1,428.7 L476.8,428.0 L478.7,426.1 L478.9,425.9 L480.9,423.8 L481.3,423.4 L482.9,421.7 L483.8,420.8 L484.9,419.7 L486.5,418.1 L486.9,417.7 L488.9,415.8 L489.3,415.5 L490.9,414.0 L492.3,412.8 L493.0,412.2 L495.0,410.5 L495.3,410.2 L497.0,408.8 L498.4,407.6 L499.0,407.0 L501.0,405.1 L501.2,404.9 L503.0,403.0 L503.7,402.3 L505.0,400.6 L505.8,399.6 L507.1,397.8 L507.6,397.0 L509.1,394.5 L509.2,394.3 L510.6,391.7 L511.1,390.7 L511.8,389.1 L513.0,386.4 L513.1,386.2 L514.2,383.8 L515.1,381.5 L515.3,381.1 L516.4,378.5 L517.1,376.9 L517.6,375.8 L518.8,373.2 L519.1,372.5 L520.1,370.5 L521.2,368.5 L521.5,367.9 L522.9,365.3 L523.2,364.7 L524.3,362.6 L525.2,361.0 L525.8,360.0 L527.2,357.4 L527.2,357.3 L528.7,354.7 L529.2,353.6 L530.0,352.0 L531.2,349.6 L531.3,349.4 L532.5,346.8 L533.2,345.0 L533.6,344.1 L534.6,341.5 L535.3,339.3 L535.4,338.8 L536.1,336.2 L536.7,333.5 L537.1,330.9 L537.3,329.4 L537.4,328.2 L537.5,325.6 L537.5,323.0 L537.3,320.3 L537.3,320.1 L536.9,317.7 L536.1,315.0 L535.3,312.9 L535.0,312.4 L533.2,310.0 L532.9,309.7 L531.2,308.6 L529.2,308.0 L527.2,307.9 L525.2,308.4 L523.2,309.2 L522.3,309.7 L521.2,310.4 L519.1,311.7 L518.3,312.4 L517.1,313.2 L515.1,314.8 L514.9,315.0 L513.1,316.5 L511.6,317.7 L511.1,318.1 L509.1,319.6 L508.2,320.3 L507.1,321.1 L505.0,322.6 L504.6,323.0 L503.0,324.1 L501.0,325.6 L501.0,325.6 L499.0,327.0 L497.4,328.2 L497.0,328.6 L495.0,330.2 L494.2,330.9 L493.0,331.9 L491.2,333.5 L490.9,333.8 L488.9,335.7 L488.5,336.2 L486.9,337.9 L486.0,338.8 L484.9,340.1 L483.7,341.5 L482.9,342.5 L481.6,344.1 L480.9,345.0 L479.5,346.8 L478.9,347.5 L477.4,349.4 L476.8,350.1 L475.3,352.0 L474.8,352.6 L473.2,354.7 L472.8,355.2 L471.1,357.3 L470.8,357.7 L469.0,360.0 L468.8,360.2 L466.9,362.6 L466.8,362.7 L464.8,365.3 L464.8,365.3 L462.9,367.9 L462.7,368.1 L461.0,370.5 L460.7,371.0 L459.3,373.2 L458.7,374.1 L457.7,375.8 L456.7,377.5 L456.1,378.5 L454.7,381.1 L454.7,381.1 L453.3,383.8 L452.7,385.0 L452.0,386.4 L450.8,389.1 L450.7,389.3 L449.6,391.7 L448.7,393.9 L448.5,394.3 L447.4,397.0 L446.6,399.0 L446.4,399.6 L445.4,402.3 L444.6,404.7 L444.5,404.9 L443.7,407.6 L442.9,410.2 L442.6,411.3 L442.2,412.8 L441.5,415.5 L441.0,418.1 L440.6,420.5 L440.5,420.8 L440.2,423.4 L440.0,426.1 L440.1,428.7 L440.4,431.3 L440.6,432.2 L441.1,434.0 L442.5,436.6 L442.6,436.7 L444.6,438.6 L445.7,439.3" fill="none" stroke="#3366FF" stroke-width="1.42"/>
<path d="M454.5,436.6 L454.7,436.6 L454.9,436.6 L456.7,436.5 L458.7,436.2 L460.7,435.7 L462.7,435.0 L464.8,434.1 L464.9,434.0 L466.8,433.0 L468.8,431.7 L469.2,431.3 L470.8,430.2 L472.5,428.7 L472.8,428.5 L474.8,426.6 L475.4,426.1 L476.8,424.6 L478.0,423.4 L478.9,422.5 L480.6,420.8 L480.9,420.4 L482.9,418.4 L483.1,418.1 L484.9,416.3 L485.7,415.5 L486.9,414.3 L488.5,412.8 L488.9,412.4 L490.9,410.6 L491.4,410.2 L493.0,408.8 L494.4,407.6 L495.0,407.0 L497.0,405.2 L497.3,404.9 L499.0,403.2 L499.9,402.3 L501.0,401.1 L502.3,399.6 L503.0,398.7 L504.3,397.0 L505.0,395.9 L506.1,394.3 L507.1,392.6 L507.6,391.7 L508.9,389.1 L509.1,388.8 L510.2,386.4 L511.1,384.4 L511.4,383.8 L512.5,381.1 L513.1,379.8 L513.7,378.5 L514.8,375.8 L515.1,375.3 L516.1,373.2 L517.1,371.0 L517.3,370.5 L518.7,367.9 L519.1,367.0 L520.1,365.3 L521.2,363.2 L521.5,362.6 L522.9,360.0 L523.2,359.4 L524.3,357.3 L525.2,355.6 L525.7,354.7 L527.0,352.0 L527.2,351.6 L528.2,349.4 L529.2,347.2 L529.4,346.8 L530.4,344.1 L531.2,341.7 L531.3,341.5 L532.0,338.8 L532.6,336.2 L533.1,333.5 L533.2,331.8 L533.3,330.9 L533.4,328.2 L533.2,325.8 L533.2,325.6 L532.7,323.0 L531.9,320.3 L531.2,319.0 L530.3,317.7 L529.2,316.6 L527.2,315.6 L525.2,315.4 L523.2,315.6 L521.2,316.3 L519.1,317.2 L518.4,317.7 L517.1,318.3 L515.1,319.5 L513.9,320.3 L513.1,320.8 L511.1,322.1 L509.8,323.0 L509.1,323.4 L507.1,324.7 L505.7,325.6 L505.0,326.0 L503.0,327.4 L501.8,328.2 L501.0,328.8 L499.0,330.2 L498.1,330.9 L497.0,331.7 L495.0,333.4 L494.8,333.5 L493.0,335.1 L491.8,336.2 L490.9,337.0 L489.2,338.8 L488.9,339.1 L486.9,341.3 L486.8,341.5 L484.9,343.7 L484.5,344.1 L482.9,346.2 L482.4,346.8 L480.9,348.7 L480.3,349.4 L478.9,351.3 L478.3,352.0 L476.8,353.8 L476.2,354.7 L474.8,356.3 L474.0,357.3 L472.8,358.8 L471.9,360.0 L470.8,361.2 L469.7,362.6 L468.8,363.7 L467.6,365.3 L466.8,366.3 L465.5,367.9 L464.8,368.9 L463.6,370.5 L462.7,371.7 L461.8,373.2 L460.7,374.7 L460.0,375.8 L458.7,378.0 L458.4,378.5 L456.9,381.1 L456.7,381.5 L455.5,383.8 L454.7,385.4 L454.2,386.4 L452.9,389.1 L452.7,389.6 L451.7,391.7 L450.7,394.2 L450.6,394.3 L449.6,397.0 L448.7,399.5 L448.6,399.6 L447.7,402.3 L446.8,404.9 L446.6,405.5 L446.0,407.6 L445.3,410.2 L444.7,412.8 L444.6,413.4 L444.2,415.5 L443.8,418.1 L443.5,420.8 L443.4,423.4 L443.6,426.1 L444.1,428.7 L444.6,430.3 L445.1,431.3 L446.6,433.6 L447.0,434.0 L448.7,435.2 L450.7,436.0 L452.7,436.5 L454.5,436.6" fill="none" stroke="#3366FF" stroke-width="1.42"/>
<path d="M451.6,431.3 L452.7,431.9 L454.7,432.5 L456.7,432.7 L458.7,432.6 L460.7,432.2 L462.7,431.6 L463.3,431.3 L464.8,430.7 L466.8,429.7 L468.3,428.7 L468.8,428.4 L470.8,426.8 L471.7,426.1 L472.8,425.1 L474.7,423.4 L474.8,423.3 L476.8,421.2 L477.3,420.8 L478.9,419.2 L479.9,418.1 L480.9,417.1 L482.4,415.5 L482.9,415.0 L484.9,412.9 L485.0,412.8 L486.9,410.9 L487.7,410.2 L488.9,409.0 L490.5,407.6 L490.9,407.1 L493.0,405.2 L493.3,404.9 L495.0,403.3 L496.0,402.3 L497.0,401.3 L498.6,399.6 L499.0,399.1 L500.8,397.0 L501.0,396.7 L502.7,394.3 L503.0,393.9 L504.4,391.7 L505.0,390.5 L505.9,389.1 L507.1,386.7 L507.2,386.4 L508.4,383.8 L509.1,382.4 L509.6,381.1 L510.8,378.5 L511.1,377.9 L512.0,375.8 L513.1,373.5 L513.2,373.2 L514.5,370.5 L515.1,369.3 L515.8,367.9 L517.1,365.4 L517.2,365.3 L518.6,362.6 L519.1,361.5 L519.9,360.0 L521.2,357.6 L521.3,357.3 L522.6,354.7 L523.2,353.6 L523.9,352.0 L525.1,349.4 L525.2,349.1 L526.1,346.8 L527.1,344.1 L527.2,343.6 L527.8,341.5 L528.4,338.8 L528.8,336.2 L529.0,333.5 L528.9,330.9 L528.4,328.2 L527.4,325.6 L527.2,325.4 L525.2,323.3 L524.4,323.0 L523.2,322.5 L521.2,322.5 L519.1,322.8 L518.6,323.0 L517.1,323.4 L515.1,324.2 L513.1,325.1 L512.1,325.6 L511.1,326.1 L509.1,327.2 L507.1,328.2 L507.1,328.3 L505.0,329.5 L503.0,330.7 L502.7,330.9 L501.0,332.0 L499.0,333.4 L498.8,333.5 L497.0,335.0 L495.5,336.2 L495.0,336.6 L493.0,338.4 L492.6,338.8 L490.9,340.5 L490.0,341.5 L488.9,342.6 L487.6,344.1 L486.9,345.0 L485.4,346.8 L484.9,347.4 L483.3,349.4 L482.9,350.0 L481.3,352.0 L480.9,352.6 L479.2,354.7 L478.9,355.1 L477.1,357.3 L476.8,357.6 L474.9,360.0 L474.8,360.0 L472.8,362.4 L472.7,362.6 L470.8,364.8 L470.5,365.3 L468.8,367.3 L468.3,367.9 L466.8,369.8 L466.2,370.5 L464.8,372.5 L464.3,373.2 L462.7,375.4 L462.5,375.8 L460.8,378.5 L460.7,378.5 L459.2,381.1 L458.7,382.0 L457.7,383.8 L456.7,385.8 L456.4,386.4 L455.1,389.1 L454.7,389.9 L453.9,391.7 L452.8,394.3 L452.7,394.6 L451.8,397.0 L450.8,399.6 L450.7,400.0 L449.9,402.3 L449.1,404.9 L448.7,406.6 L448.4,407.6 L447.8,410.2 L447.3,412.8 L446.9,415.5 L446.7,418.1 L446.6,420.8 L446.9,423.4 L447.5,426.1 L448.7,428.5 L448.8,428.7 L450.7,430.7 L451.6,431.3" fill="none" stroke="#3366FF" stroke-width="1.42"/>
<path d="M452.6,426.1 L452.7,426.2 L454.7,427.7 L456.7,428.4 L458.7,428.7 L460.7,428.5 L462.7,428.0 L464.8,427.2 L466.8,426.2 L467.0,426.1 L468.8,424.9 L470.8,423.4 L470.8,423.4 L472.8,421.7 L473.8,420.8 L474.8,419.8 L476.5,418.1 L476.8,417.8 L478.9,415.7 L479.1,415.5 L480.9,413.6 L481.6,412.8 L482.9,411.5 L484.1,410.2 L484.9,409.4 L486.7,407.6 L486.9,407.4 L488.9,405.4 L489.4,404.9 L490.9,403.4 L492.1,402.3 L493.0,401.3 L494.6,399.6 L495.0,399.2 L497.0,397.0 L497.0,397.0 L499.0,394.4 L499.1,394.3 L500.9,391.7 L501.0,391.5 L502.5,389.1 L503.0,388.1 L503.9,386.4 L505.0,384.2 L505.3,383.8 L506.5,381.1 L507.1,379.9 L507.7,378.5 L509.0,375.8 L509.1,375.6 L510.2,373.2 L511.1,371.4 L511.5,370.5 L512.8,367.9 L513.1,367.3 L514.2,365.3 L515.1,363.4 L515.5,362.6 L516.9,360.0 L517.1,359.5 L518.2,357.3 L519.1,355.4 L519.5,354.7 L520.6,352.0 L521.2,350.8 L521.7,349.4 L522.6,346.8 L523.2,344.9 L523.4,344.1 L524.0,341.5 L524.3,338.8 L524.2,336.2 L523.8,333.5 L523.2,332.1 L522.3,330.9 L521.2,329.8 L519.1,329.0 L517.1,328.9 L515.1,329.1 L513.1,329.6 L511.1,330.3 L509.5,330.9 L509.1,331.1 L507.1,332.0 L505.0,333.0 L504.1,333.5 L503.0,334.2 L501.0,335.4 L499.9,336.2 L499.0,336.8 L497.0,338.4 L496.5,338.8 L495.0,340.1 L493.5,341.5 L493.0,342.0 L491.0,344.1 L490.9,344.1 L488.9,346.5 L488.7,346.8 L486.9,348.9 L486.6,349.4 L484.9,351.5 L484.5,352.0 L482.9,354.1 L482.4,354.7 L480.9,356.7 L480.3,357.3 L478.9,359.1 L478.2,360.0 L476.8,361.5 L475.9,362.6 L474.8,363.9 L473.6,365.3 L472.8,366.2 L471.3,367.9 L470.8,368.5 L469.1,370.5 L468.8,371.0 L467.0,373.2 L466.8,373.5 L465.1,375.8 L464.8,376.3 L463.3,378.5 L462.7,379.3 L461.6,381.1 L460.7,382.6 L460.1,383.8 L458.7,386.3 L458.7,386.4 L457.4,389.1 L456.7,390.4 L456.1,391.7 L455.0,394.3 L454.7,395.2 L454.0,397.0 L453.0,399.6 L452.7,400.8 L452.2,402.3 L451.5,404.9 L450.8,407.6 L450.7,408.4 L450.3,410.2 L450.0,412.8 L449.8,415.5 L449.8,418.1 L450.1,420.8 L450.7,422.7 L450.9,423.4 L452.6,426.1" fill="none" stroke="#3366FF" stroke-width="1.42"/>
<path d="M457.1,423.4 L458.7,424.1 L460.7,424.3 L462.7,424.1 L464.8,423.5 L464.9,423.4 L466.8,422.5 L468.8,421.3 L469.4,420.8 L470.8,419.7 L472.7,418.1 L472.8,418.0 L474.8,416.1 L475.5,415.5 L476.8,414.1 L478.1,412.8 L478.9,412.0 L480.6,410.2 L480.9,409.9 L482.9,407.7 L483.1,407.6 L484.9,405.6 L485.6,404.9 L486.9,403.4 L488.1,402.3 L488.9,401.3 L490.5,399.6 L490.9,399.1 L492.9,397.0 L493.0,396.9 L495.0,394.4 L495.1,394.3 L497.0,391.7 L497.0,391.7 L498.7,389.1 L499.0,388.6 L500.3,386.4 L501.0,385.0 L501.7,383.8 L503.0,381.1 L503.0,381.1 L504.3,378.5 L505.0,376.9 L505.5,375.8 L506.8,373.2 L507.1,372.7 L508.1,370.5 L509.1,368.7 L509.5,367.9 L510.8,365.3 L511.1,364.8 L512.2,362.6 L513.1,360.8 L513.5,360.0 L514.8,357.3 L515.1,356.7 L516.0,354.7 L517.1,352.0 L517.1,351.9 L518.0,349.4 L518.7,346.8 L519.1,344.3 L519.2,344.1 L519.3,341.5 L519.1,340.5 L518.8,338.8 L517.2,336.2 L517.1,336.2 L515.1,335.2 L513.1,334.9 L511.1,335.0 L509.1,335.5 L507.1,336.1 L506.9,336.2 L505.0,337.0 L503.0,338.0 L501.7,338.8 L501.0,339.2 L499.0,340.6 L497.9,341.5 L497.0,342.3 L495.0,344.1 L494.9,344.1 L493.0,346.2 L492.4,346.8 L490.9,348.5 L490.2,349.4 L488.9,350.9 L488.1,352.0 L486.9,353.5 L486.0,354.7 L484.9,356.1 L484.0,357.3 L482.9,358.7 L481.8,360.0 L480.9,361.1 L479.6,362.6 L478.9,363.4 L477.2,365.3 L476.8,365.7 L474.8,367.9 L474.8,367.9 L472.8,370.1 L472.4,370.5 L470.8,372.4 L470.2,373.2 L468.8,374.8 L468.0,375.8 L466.8,377.5 L466.1,378.5 L464.8,380.3 L464.3,381.1 L462.7,383.5 L462.6,383.8 L461.1,386.4 L460.7,387.1 L459.8,389.1 L458.7,391.2 L458.5,391.7 L457.4,394.3 L456.7,396.0 L456.3,397.0 L455.4,399.6 L454.7,402.1 L454.6,402.3 L454.0,404.9 L453.4,407.6 L453.1,410.2 L452.9,412.8 L453.0,415.5 L453.4,418.1 L454.5,420.8 L454.7,421.2 L456.7,423.2 L457.1,423.4" fill="none" stroke="#3366FF" stroke-width="1.42"/>
<path d="M458.8,418.1 L460.7,419.1 L462.7,419.4 L464.8,419.1 L466.8,418.3 L467.1,418.1 L468.8,417.2 L470.8,415.7 L471.1,415.5 L472.8,414.0 L474.1,412.8 L474.8,412.1 L476.7,410.2 L476.8,410.1 L478.9,407.9 L479.2,407.6 L480.9,405.7 L481.6,404.9 L482.9,403.5 L484.0,402.3 L484.9,401.2 L486.3,399.6 L486.9,398.9 L488.6,397.0 L488.9,396.5 L490.7,394.3 L490.9,394.0 L492.6,391.7 L493.0,391.2 L494.4,389.1 L495.0,388.1 L496.0,386.4 L497.0,384.6 L497.4,383.8 L498.8,381.1 L499.0,380.7 L500.1,378.5 L501.0,376.6 L501.4,375.8 L502.7,373.2 L503.0,372.5 L504.0,370.5 L505.0,368.6 L505.4,367.9 L506.8,365.3 L507.1,364.8 L508.2,362.6 L509.1,360.9 L509.5,360.0 L510.8,357.3 L511.1,356.6 L511.9,354.7 L512.8,352.0 L513.1,350.7 L513.4,349.4 L513.6,346.8 L513.2,344.1 L513.1,343.9 L511.1,341.7 L510.4,341.5 L509.1,341.2 L507.1,341.3 L506.5,341.5 L505.0,341.9 L503.0,342.8 L501.0,343.9 L500.6,344.1 L499.0,345.3 L497.3,346.8 L497.0,347.0 L495.0,349.0 L494.6,349.4 L493.0,351.3 L492.4,352.0 L490.9,353.8 L490.3,354.7 L488.9,356.5 L488.3,357.3 L486.9,359.1 L486.2,360.0 L484.9,361.6 L484.0,362.6 L482.9,363.9 L481.7,365.3 L480.9,366.1 L479.1,367.9 L478.9,368.2 L476.8,370.2 L476.5,370.5 L474.8,372.3 L474.0,373.2 L472.8,374.4 L471.5,375.8 L470.8,376.7 L469.3,378.5 L468.8,379.1 L467.3,381.1 L466.8,381.8 L465.5,383.8 L464.8,384.9 L463.9,386.4 L462.7,388.4 L462.4,389.1 L461.1,391.7 L460.7,392.6 L460.0,394.3 L459.0,397.0 L458.7,397.7 L458.1,399.6 L457.4,402.3 L456.8,404.9 L456.7,405.3 L456.4,407.6 L456.2,410.2 L456.4,412.8 L456.7,414.2 L457.1,415.5 L458.7,418.0 L458.8,418.1" fill="none" stroke="#3366FF" stroke-width="1.42"/>
<path d="M432.33,453.60 L439.66,443.79 L447.01,433.98 L454.35,424.17 L461.70,414.36 L469.06,404.57 L476.43,394.78 L483.83,385.01 L491.25,375.26 L498.72,365.54 L506.22,355.86 L513.76,346.20 L521.31,336.55 L528.88,326.92 L536.46,317.29 L544.05,307.67 L551.64,298.05 L559.24,288.43 L566.84,278.82 L574.44,269.21 L582.04,259.60 L589.64,249.99 L597.24,240.38 L604.85,230.77 L612.45,221.16 L620.06,211.55 L627.66,201.95 L635.27,192.34 L642.88,182.73 L650.48,173.12 L658.09,163.52 L665.69,153.91 L673.30,144.30 L680.91,134.70 L688.52,125.09 L696.12,115.48 L703.73,105.88 L711.34,96.27 L718.94,86.67 L726.55,77.06 L734.16,67.45 L726.24,61.35 L718.88,71.15 L711.53,80.94 L704.17,90.74 L696.81,100.54 L689.45,110.34 L682.09,120.14 L674.74,129.94 L667.38,139.74 L660.02,149.53 L652.66,159.33 L645.30,169.13 L637.94,178.93 L630.59,188.73 L623.23,198.52 L615.87,208.32 L608.51,218.12 L601.15,227.92 L593.79,237.71 L586.42,247.51 L579.06,257.30 L571.70,267.10 L564.33,276.89 L556.97,286.68 L549.60,296.47 L542.22,306.26 L534.85,316.04 L527.46,325.82 L520.07,335.59 L512.66,345.35 L505.23,355.09 L497.77,364.81 L490.27,374.50 L482.73,384.16 L475.16,393.79 L467.56,403.41 L459.96,413.02 L452.34,422.62 L444.72,432.21 L437.10,441.81 L429.47,451.40Z" fill="#999999" fill-opacity="0.4"/>
<path d="M430.9,452.5 L730.2,64.4" fill="none" stroke="#3366FF" stroke-width="2.85" stroke-linecap="butt"/>
</g>
<rect x="50" y="7" width="331" height="30" fill="#D9D9D9"/>
<rect x="50" y="7" width="331" height="1" fill="#707070"/>
<rect x="50" y="7" width="1" height="30" fill="#7A7A7A"/>
<rect x="380" y="7" width="1" height="30" fill="#7A7A7A"/>
<rect x="50" y="36" width="331" height="2" fill="#555555"/>
<text x="215.78" y="28.7" font-size="18.67" fill="#1A1A1A" text-anchor="middle">Nigeria</text>
<rect x="50" y="38" width="1" height="439" fill="#A0A0A0"/>
<rect x="380" y="38" width="1" height="439" fill="#999999"/>
<rect x="51" y="38" width="1" height="437" fill="#E4E4E4"/>
<rect x="51" y="475" width="329" height="1" fill="#D2D2D2"/>
<rect x="50" y="476" width="331" height="1" fill="#9C9C9C"/>
<line x1="59.44" x2="59.44" y1="475.90" y2="479.57" stroke="#333333" stroke-width="1.07"/>
<text x="59.44" y="494.7" font-size="16" fill="#4D4D4D" text-anchor="middle">0</text>
<line x1="145.04" x2="145.04" y1="475.90" y2="479.57" stroke="#333333" stroke-width="1.07"/>
<text x="145.04" y="494.7" font-size="16" fill="#4D4D4D" text-anchor="middle">20</text>
<line x1="230.65" x2="230.65" y1="475.90" y2="479.57" stroke="#333333" stroke-width="1.07"/>
<text x="230.65" y="494.7" font-size="16" fill="#4D4D4D" text-anchor="middle">40</text>
<line x1="316.25" x2="316.25" y1="475.90" y2="479.57" stroke="#333333" stroke-width="1.07"/>
<text x="316.25" y="494.7" font-size="16" fill="#4D4D4D" text-anchor="middle">60</text>
<line x1="46.83" x2="50.50" y1="457.47" y2="457.47" stroke="#333333" stroke-width="1.07"/>
<text x="43.90" y="463.77" font-size="16" fill="#4D4D4D" text-anchor="end">0</text>
<line x1="46.83" x2="50.50" y1="356.24" y2="356.24" stroke="#333333" stroke-width="1.07"/>
<text x="43.90" y="362.54" font-size="16" fill="#4D4D4D" text-anchor="end">20</text>
<line x1="46.83" x2="50.50" y1="255.01" y2="255.01" stroke="#333333" stroke-width="1.07"/>
<text x="43.90" y="261.31" font-size="16" fill="#4D4D4D" text-anchor="end">40</text>
<line x1="46.83" x2="50.50" y1="153.78" y2="153.78" stroke="#333333" stroke-width="1.07"/>
<text x="43.90" y="160.08" font-size="16" fill="#4D4D4D" text-anchor="end">60</text>
<line x1="46.83" x2="50.50" y1="52.55" y2="52.55" stroke="#333333" stroke-width="1.07"/>
<text x="43.90" y="58.85" font-size="16" fill="#4D4D4D" text-anchor="end">80</text>
<rect x="415" y="7" width="331" height="30" fill="#D9D9D9"/>
<rect x="415" y="7" width="331" height="1" fill="#707070"/>
<rect x="415" y="7" width="1" height="30" fill="#707070"/>
<rect x="745" y="7" width="1" height="30" fill="#707070"/>
<rect x="415" y="36" width="331" height="2" fill="#555555"/>
<text x="580.40" y="28.7" font-size="18.67" fill="#1A1A1A" text-anchor="middle">Tanzania</text>
<rect x="415" y="38" width="1" height="439" fill="#707070"/>
<rect x="745" y="38" width="1" height="439" fill="#707070"/>
<rect x="416" y="475" width="329" height="1" fill="#D2D2D2"/>
<rect x="415" y="476" width="331" height="1" fill="#9C9C9C"/>
<line x1="423.27" x2="423.27" y1="475.90" y2="479.57" stroke="#333333" stroke-width="1.07"/>
<text x="423.27" y="494.7" font-size="16" fill="#4D4D4D" text-anchor="middle">0</text>
<line x1="495.81" x2="495.81" y1="475.90" y2="479.57" stroke="#333333" stroke-width="1.07"/>
<text x="495.81" y="494.7" font-size="16" fill="#4D4D4D" text-anchor="middle">10</text>
<line x1="568.35" x2="568.35" y1="475.90" y2="479.57" stroke="#333333" stroke-width="1.07"/>
<text x="568.35" y="494.7" font-size="16" fill="#4D4D4D" text-anchor="middle">20</text>
<line x1="640.89" x2="640.89" y1="475.90" y2="479.57" stroke="#333333" stroke-width="1.07"/>
<text x="640.89" y="494.7" font-size="16" fill="#4D4D4D" text-anchor="middle">30</text>
<line x1="713.43" x2="713.43" y1="475.90" y2="479.57" stroke="#333333" stroke-width="1.07"/>
<text x="713.43" y="494.7" font-size="16" fill="#4D4D4D" text-anchor="middle">40</text>
<line x1="411.33" x2="415.00" y1="463.86" y2="463.86" stroke="#333333" stroke-width="1.07"/>
<text x="408.40" y="469.56" font-size="16" fill="#4D4D4D" text-anchor="end">0</text>
<line x1="411.33" x2="415.00" y1="355.62" y2="355.62" stroke="#333333" stroke-width="1.07"/>
<text x="408.40" y="361.32" font-size="16" fill="#4D4D4D" text-anchor="end">10</text>
<line x1="411.33" x2="415.00" y1="247.38" y2="247.38" stroke="#333333" stroke-width="1.07"/>
<text x="408.40" y="253.08" font-size="16" fill="#4D4D4D" text-anchor="end">20</text>
<line x1="411.33" x2="415.00" y1="139.14" y2="139.14" stroke="#333333" stroke-width="1.07"/>
<text x="408.40" y="144.84" font-size="16" fill="#4D4D4D" text-anchor="end">30</text>
<text x="398.3" y="511.8" font-size="14.8" fill="#000" text-anchor="middle">Observed control yield (t/ha)</text>
<text transform="translate(17.1,257) rotate(-90)" x="0" y="0" font-size="14.8" fill="#000" text-anchor="middle">Estimated control yield using reverse QUEFTS (kg/ha)</text></svg></body></html>
